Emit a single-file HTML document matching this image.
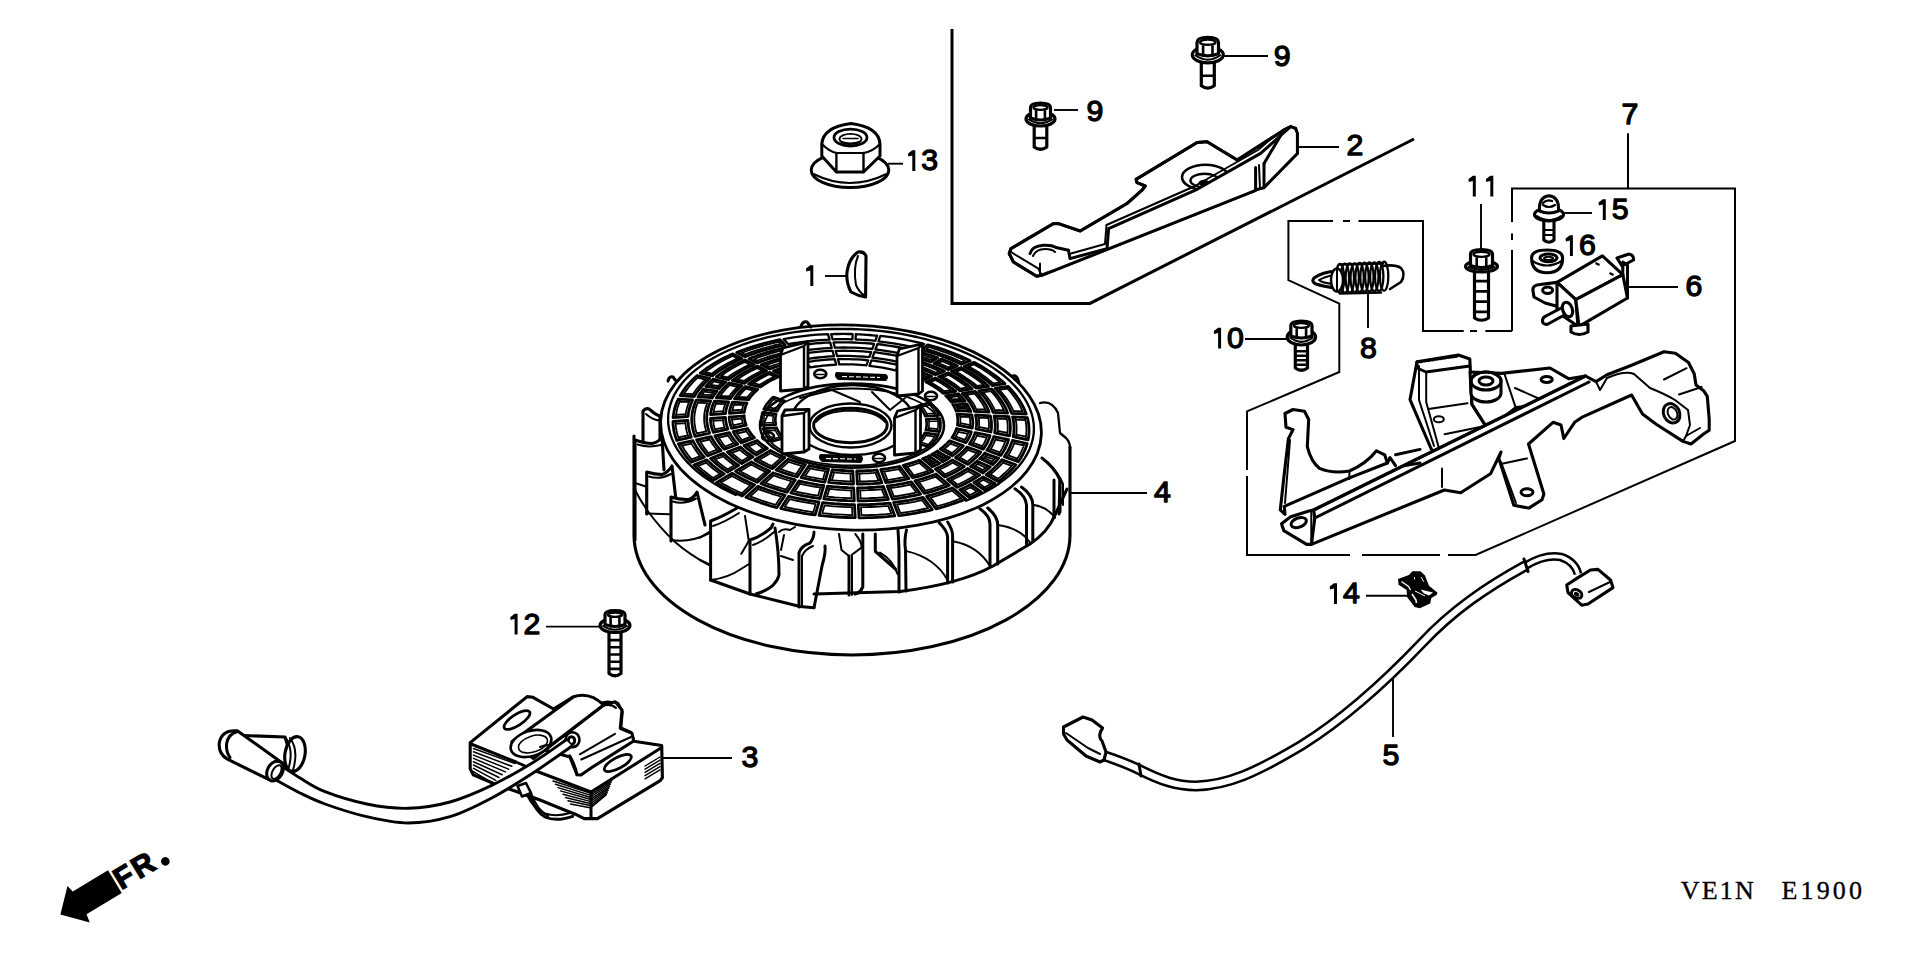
<!DOCTYPE html>
<html><head><meta charset="utf-8"><title>Flywheel parts diagram</title>
<style>
html,body{margin:0;padding:0;background:#fff;}
body{width:1920px;height:958px;overflow:hidden;position:relative;}
svg{position:absolute;left:0;top:0;}
.s{fill:none;stroke:#000;stroke-width:3.0;stroke-linejoin:round;stroke-linecap:round;}
.f{fill:#fff;stroke:#000;stroke-width:3.1;stroke-linejoin:round;stroke-linecap:round;}
.t{fill:none;stroke:#000;stroke-width:2.0;stroke-linejoin:round;stroke-linecap:round;}
.k{fill:#000;stroke:none;}
.bx{fill:none;stroke:#000;stroke-width:3;stroke-linejoin:miter;}
.lb{font-family:"Liberation Sans",sans-serif;fill:#000;stroke:#000;stroke-width:1.3;stroke-linejoin:round;}
.sr{font-family:"Liberation Serif",serif;fill:#000;}
</style></head><body>
<svg width="1920" height="958" viewBox="0 0 1920 958">
<path d="M952,29 V303.4 H1090 L1414,139" class="bx"/>
<path d="M1628,134 V188.6" class="s" style="stroke-width:2"/>
<path d="M1512,331 V188.6 H1735 V441 L1475.6,555 H1247 V411.4 L1339.3,372 V303.6 L1288.4,280.2 V221 H1423 V331 H1512" class="bx" style="stroke-width:2.0"/>
<line x1="1333" y1="221" x2="1343" y2="221" stroke="#fff" style="stroke-width:4"/>
<line x1="1350" y1="221" x2="1358.5" y2="221" stroke="#fff" style="stroke-width:4"/>
<line x1="1463.7" y1="331" x2="1470" y2="331" stroke="#fff" style="stroke-width:4"/>
<line x1="1477" y1="331" x2="1485.4" y2="331" stroke="#fff" style="stroke-width:4"/>
<line x1="1512" y1="222" x2="1512" y2="233.4" stroke="#fff" style="stroke-width:4"/>
<line x1="1512" y1="240" x2="1512" y2="250" stroke="#fff" style="stroke-width:4"/>
<line x1="1247" y1="470" x2="1247" y2="476" stroke="#fff" style="stroke-width:4"/>
<line x1="1350" y1="555" x2="1362" y2="555" stroke="#fff" style="stroke-width:4"/>
<line x1="1440" y1="555" x2="1448" y2="555" stroke="#fff" style="stroke-width:4"/>
<path d="M634,436 L634,535 A218,120 0 0 0 1070,535 L1070,447" class="f"/>
<path d="M643,446 L643,411 Q647,406.5 651,410.5 Q656,415 660,416 L660,440" class="f"/>
<path d="M646,414 Q652,419.5 659,420.5" class="t"/>
<path d="M635,540 L635,440 Q645,443.5 652,443.5 Q659,442 662,437 L664,470" class="f"/>
<path d="M637.5,444.5 Q648,448 661,445" class="t"/>
<path d="M646.7,514 L646.7,472 Q655,474.5 662,474.5 Q668,472.5 672,466 L676,500" class="f"/>
<path d="M649,476.5 Q660,480 671,474" class="t"/>
<path d="M646.7,513.5 L670,514.3" class="t"/>
<path d="M671,541 L671,497 Q680,500 689,499.5 Q694,497.5 697,492 L705,525" class="f"/>
<path d="M673,501.5 Q684,505 696,498.5" class="t"/>
<path d="M671,540 Q690,543 708.6,533.5" class="t"/>
<path d="M635,490 Q640,500 647,510 Q660,528 675,542 Q690,555 709,565" class="t"/>
<path d="M635,483 L646.7,486.7" class="t"/>
<path d="M710.6,580 L710.6,521 Q722,517 737,508" class="s"/>
<path d="M713,526 Q725,522 739,513" class="t"/>
<path d="M710.6,580 Q728,578 741,569 Q746,566 749,564" class="t"/>
<path d="M700,537.6 L710.6,531" class="t"/>
<path d="M700,560 L710.6,565" class="t"/>
<path d="M745,516 L748.8,541" class="t"/>
<path d="M741.3,553.8 L748.8,541" class="t"/>
<path d="M750,594 L750,540 Q760,537 771,528 L773,524" class="s"/>
<path d="M753,545 Q764,541 774,532" class="t"/>
<path d="M775,528 Q779,552 779,575 Q776,588 756,594" class="s"/>
<path d="M779,532 Q783,528 790,530 L795,527" class="t"/>
<path d="M781,556 L793,560" class="t"/>
<path d="M784,535 L781,550" class="t"/>
<path d="M799,607 L799,553 Q801,546 810,543 Q814,538 814,532" class="s"/>
<path d="M802,607 L802,556 Q805,549 813,546" class="t"/>
<path d="M825,546 Q826,552 822,566 L814,607.7" class="s"/>
<path d="M839,534 L841.5,550 L849,556" class="t"/>
<path d="M855.3,534 Q862,542 861.5,547.6 L851.5,555" class="t"/>
<path d="M849,556 L849,595" class="s"/>
<path d="M852,556 L852,595" class="t"/>
<path d="M862.8,534 L862.8,587 Q860,593 855,594" class="s"/>
<path d="M875.3,534 L875.3,551.3 L895.4,569" class="s"/>
<path d="M898,530 Q899,545 899,555 L899,592" class="s"/>
<path d="M906.5,530 Q904,540 905.5,550 L906,591" class="s"/>
<path d="M880,552.6 Q893,560 897.5,574" class="t"/>
<path d="M939,522.6 Q947,530 947.6,537 L947.6,583" class="s"/>
<path d="M947.6,522 Q953,530 952.6,537 L952.6,582" class="s"/>
<path d="M907.5,551.4 Q935,558 947.6,580" class="t"/>
<path d="M980,508.8 Q990,516 990,524 L990,566" class="s"/>
<path d="M987.7,508 Q997.7,516 997.7,525 L997.7,564" class="s"/>
<path d="M954,541.4 Q978,546 990,566" class="t"/>
<path d="M1015,488.8 Q1026,496 1026.5,505 L1026.5,544" class="s"/>
<path d="M1021.5,487 Q1032.8,495 1032.8,505 L1032.8,541" class="s"/>
<path d="M997.7,525 Q1020,528 1030,542.6" class="t"/>
<path d="M1054,480 L1054,517.6" class="s"/>
<path d="M1060,479 L1060,512" class="s"/>
<path d="M1034,505 Q1047,507 1055,517.6" class="t"/>
<path d="M710.6,580 L750,594 L800,606.5 L814,607.7 M814,594 L900.4,591.4 Q960,584 993,566 L1030,544 Q1048,532 1055,515 L1067,489" class="s"/>
<path d="M1040,403 Q1052,400 1058,413 L1060,433 L1066,438 Q1070,442 1070,448" class="f" style="stroke-width:2.3"/>
<path d="M1042,458 Q1055,468 1060,480 L1059,514" class="s"/>
<path d="M1047,462 Q1058,472 1063,484 L1063,505" class="t"/>
<ellipse cx="851" cy="427.5" rx="190.5" ry="102.5" class="f" style="stroke-width:2.8" transform="rotate(2 851 427.5)"/>
<path d="M735.8,494.9 L728.5,491.5 L721.6,487.9 L715.0,484.1 L708.8,480.1 L702.9,476.0 L697.5,471.8 L692.5,467.4 L688.0,462.9 L683.8,458.3 L680.2,453.6 L677.0,448.9 L674.3,444.0 L672.1,439.1 L670.3,434.2 L669.1,429.2 L668.3,424.3 L668.1,419.3 L668.3,414.3 L669.1,409.4 L670.4,404.5 L672.1,399.6 L674.3,394.8 L677.1,390.1 L680.3,385.5 L683.9,381.0 L688.1,376.6 L692.6,372.4 L697.7,368.3 L703.1,364.3 L708.9,360.5 L715.1,356.9 L721.7,353.5 L728.7,350.2 L736.0,347.2 L743.6,344.3 L751.5,341.7 L759.6,339.3 L768.1,337.2 L776.7,335.3 L785.6,333.6 L794.6,332.2 L803.8,331.0 L813.1,330.1 L822.5,329.4 L832.0,329.0 L841.5,328.8 L851.1,329.0 L860.7,329.3 L870.2,330.0 L879.7,330.9 L889.2,332.0 L898.5,333.4 L907.6,335.1 L916.7,337.0 L925.5,339.1 L934.2,341.5 L942.6,344.1 L950.7,346.9 L958.6,349.9 L966.2,353.1 L973.5,356.5 L980.4,360.1 L987.0,363.9 L993.2,367.9 L999.1,372.0 L1004.5,376.2 L1009.5,380.6 L1014.0,385.1 L1018.2,389.7 L1021.8,394.4 L1025.0,399.1 L1027.7,404.0 L1029.9,408.9 L1031.7,413.8 L1032.9,418.8 L1033.7,423.7 L1033.9,428.7 L1033.7,433.7 L1032.9,438.6 L1031.6,443.5 L1029.9,448.4 L1027.7,453.2 L1024.9,457.9 L1021.7,462.5 L1018.1,467.0 L1013.9,471.4 L1009.4,475.6 L1004.3,479.7 L998.9,483.7 L993.1,487.5 L986.9,491.1 L980.3,494.5 L973.3,497.8 L966.0,500.8" class="s" style="stroke-width:2.3"/>
<path d="M801,326 Q803,321 807,322 L811,327" class="s"/>
<path d="M668,381 Q669,376 673,377 L676,381" class="s"/>
<path d="M1012.1,376.2 Q1017.4,374.3 1018.8,382.3" class="s"/>
<path d="M971.8,414.8 L971.9,415.1 L972.3,417.3 L972.6,419.4 L972.8,421.5 L972.8,423.7 L972.6,425.8 L972.3,427.9 L972.3,428.2 L957.4,425.1 L957.4,425.1 L957.7,423.3 L957.8,421.4 L957.8,419.6 L957.7,417.8 L957.4,415.9 L957.0,414.1 L957.0,414.1Z" class="s" style="stroke-width:2.8"/>
<path d="M969.8,417.2 L969.3,415.0 L969.8,417.0 L970.1,419.1 L970.2,421.2 L970.2,423.3 L970.1,425.4 L969.8,427.4 L970.1,425.1 L960.3,423.1 L960.0,425.6 L960.3,423.7 L960.4,421.8 L960.4,419.9 L960.3,418.1 L960.0,416.2 L959.6,414.3 L960.1,416.7Z" class="t" style="stroke-width:1.8"/>
<path d="M990.3,415.8 L990.5,416.5 L991.0,419.0 L991.4,421.5 L991.5,423.9 L991.5,426.4 L991.4,428.9 L991.0,431.4 L990.9,432.0 L976.0,428.9 L976.1,428.6 L976.4,426.4 L976.6,424.2 L976.6,422.0 L976.4,419.8 L976.1,417.6 L975.6,415.4 L975.5,415.0Z" class="s" style="stroke-width:2.8"/>
<path d="M988.3,418.2 L987.9,416.3 L988.5,418.7 L988.8,421.2 L989.0,423.6 L989.0,426.1 L988.8,428.5 L988.4,430.9 L988.7,429.0 L979.0,426.9 L978.7,429.1 L979.0,426.9 L979.1,424.6 L979.1,422.4 L979.0,420.1 L978.7,417.8 L978.2,415.6 L978.6,417.7Z" class="t" style="stroke-width:1.8"/>
<path d="M1008.9,416.7 L1009.1,417.8 L1009.7,420.6 L1010.1,423.5 L1010.3,426.4 L1010.3,429.2 L1010.1,432.1 L1009.7,434.9 L1009.5,435.9 L994.6,432.8 L994.8,432.1 L995.1,429.6 L995.3,427.0 L995.3,424.4 L995.1,421.9 L994.8,419.3 L994.3,416.7 L994.1,416.0Z" class="s" style="stroke-width:2.8"/>
<path d="M1006.9,419.1 L1006.6,417.6 L1007.1,420.4 L1007.5,423.2 L1007.7,426.0 L1007.7,428.8 L1007.5,431.6 L1007.1,434.4 L1007.4,432.8 L997.6,430.8 L997.3,432.6 L997.7,430.0 L997.9,427.4 L997.9,424.8 L997.7,422.1 L997.3,419.5 L996.8,416.9 L997.2,418.6Z" class="t" style="stroke-width:1.8"/>
<path d="M1027.4,417.7 L1027.7,419.1 L1028.4,422.3 L1028.8,425.5 L1029.0,428.8 L1029.0,432.0 L1028.8,435.2 L1028.3,438.4 L1028.1,439.8 L1013.2,436.7 L1013.4,435.6 L1013.8,432.7 L1014.0,429.8 L1014.0,426.8 L1013.8,423.9 L1013.4,421.0 L1012.9,418.0 L1012.6,416.9Z" class="s" style="stroke-width:2.8"/>
<path d="M1025.4,420.1 L1025.2,418.9 L1025.8,422.1 L1026.2,425.3 L1026.4,428.4 L1026.4,431.6 L1026.2,434.8 L1025.8,437.9 L1026.0,436.7 L1016.2,434.7 L1016.0,436.1 L1016.4,433.1 L1016.6,430.2 L1016.6,427.2 L1016.4,424.2 L1016.0,421.2 L1015.4,418.2 L1015.7,419.6Z" class="t" style="stroke-width:1.8"/>
<path d="M971.4,431.8 L971.4,431.8 L970.8,433.7 L970.0,435.5 L969.2,437.3 L968.2,439.0 L967.2,440.8 L966.0,442.5 L965.8,442.7 L951.9,437.7 L951.9,437.7 L952.9,436.2 L953.8,434.7 L954.7,433.2 L955.4,431.6 L956.1,430.1 L956.6,428.5 L956.5,428.7Z" class="s" style="stroke-width:2.8"/>
<path d="M967.9,433.8 L968.8,431.3 L968.2,433.0 L967.5,434.8 L966.7,436.6 L965.8,438.3 L964.7,440.0 L963.6,441.7 L964.8,439.8 L955.7,436.5 L954.3,438.5 L955.4,437.0 L956.3,435.4 L957.2,433.9 L957.9,432.3 L958.6,430.7 L959.1,429.1 L958.2,431.8Z" class="t" style="stroke-width:1.8"/>
<path d="M990.0,435.7 L989.9,436.0 L989.2,438.2 L988.3,440.3 L987.4,442.4 L986.3,444.5 L985.0,446.5 L983.7,448.6 L983.3,449.1 L969.4,444.0 L969.6,443.7 L970.8,441.9 L971.9,440.1 L972.8,438.3 L973.7,436.4 L974.5,434.6 L975.1,432.7 L975.1,432.6Z" class="s" style="stroke-width:2.8"/>
<path d="M986.6,437.7 L987.4,435.5 L986.7,437.5 L985.8,439.6 L984.9,441.7 L983.8,443.7 L982.6,445.7 L981.2,447.7 L982.3,446.1 L973.2,442.8 L972.0,444.6 L973.2,442.7 L974.3,440.9 L975.3,439.0 L976.2,437.1 L977.0,435.2 L977.7,433.3 L976.8,435.7Z" class="t" style="stroke-width:1.8"/>
<path d="M1008.6,439.6 L1008.4,440.2 L1007.6,442.7 L1006.6,445.1 L1005.5,447.5 L1004.3,449.9 L1002.9,452.3 L1001.4,454.6 L1000.8,455.4 L986.8,450.3 L987.2,449.8 L988.6,447.7 L989.9,445.6 L991.0,443.4 L992.0,441.2 L992.9,439.1 L993.6,436.9 L993.7,436.5Z" class="s" style="stroke-width:2.8"/>
<path d="M1005.2,441.6 L1005.9,439.6 L1005.1,442.0 L1004.1,444.4 L1003.0,446.8 L1001.8,449.1 L1000.4,451.5 L998.9,453.8 L999.8,452.4 L990.7,449.1 L989.7,450.6 L991.1,448.5 L992.4,446.3 L993.5,444.1 L994.5,441.9 L995.4,439.7 L996.2,437.4 L995.5,439.5Z" class="t" style="stroke-width:1.8"/>
<path d="M1027.2,443.5 L1026.9,444.4 L1026.0,447.2 L1025.0,449.9 L1023.7,452.6 L1022.3,455.3 L1020.8,458.0 L1019.0,460.6 L1018.3,461.7 L1004.3,456.7 L1004.9,455.8 L1006.5,453.4 L1007.9,451.0 L1009.2,448.5 L1010.3,446.1 L1011.3,443.6 L1012.2,441.1 L1012.4,440.4Z" class="s" style="stroke-width:2.8"/>
<path d="M1023.9,445.4 L1024.4,443.8 L1023.5,446.5 L1022.4,449.2 L1021.2,451.9 L1019.8,454.6 L1018.3,457.2 L1016.6,459.8 L1017.3,458.7 L1008.2,455.4 L1007.4,456.6 L1008.9,454.2 L1010.4,451.7 L1011.7,449.2 L1012.9,446.7 L1013.9,444.2 L1014.7,441.6 L1014.1,443.4Z" class="t" style="stroke-width:1.8"/>
<path d="M963.4,445.7 L963.3,445.9 L961.8,447.6 L960.2,449.2 L958.5,450.8 L956.7,452.4 L954.8,454.0 L952.8,455.5 L952.3,455.9 L940.1,449.1 L940.4,448.9 L942.2,447.6 L943.8,446.3 L945.4,444.9 L946.9,443.5 L948.3,442.1 L949.6,440.7 L949.6,440.7Z" class="s" style="stroke-width:2.8"/>
<path d="M959.1,446.8 L960.8,445.0 L959.3,446.6 L957.8,448.2 L956.1,449.7 L954.4,451.3 L952.5,452.8 L950.6,454.3 L952.1,453.1 L944.3,448.9 L942.7,450.1 L944.5,448.8 L946.2,447.4 L947.8,446.0 L949.3,444.6 L950.7,443.1 L952.1,441.6 L950.3,443.6Z" class="t" style="stroke-width:1.8"/>
<path d="M980.9,452.0 L980.5,452.5 L978.8,454.5 L977.0,456.4 L975.0,458.3 L972.9,460.1 L970.8,462.0 L968.5,463.8 L967.6,464.4 L955.5,457.7 L956.1,457.2 L958.1,455.6 L960.1,454.0 L961.9,452.4 L963.7,450.7 L965.3,449.0 L966.9,447.3 L967.1,447.0Z" class="s" style="stroke-width:2.8"/>
<path d="M976.7,453.1 L978.1,451.6 L976.4,453.5 L974.6,455.4 L972.6,457.2 L970.6,459.0 L968.5,460.8 L966.2,462.6 L967.4,461.7 L959.7,457.4 L958.3,458.4 L960.4,456.8 L962.4,455.1 L964.3,453.5 L966.1,451.7 L967.8,450.0 L969.4,448.2 L967.8,449.9Z" class="t" style="stroke-width:1.8"/>
<path d="M998.5,458.4 L998.7,458.0 L997.8,459.2 L996.9,460.3 L995.9,461.4 L994.8,462.5 L993.8,463.6 L992.7,464.7 L992.9,464.5 L979.8,458.5 L979.5,458.9 L980.5,457.9 L981.4,456.9 L982.4,455.9 L983.3,454.9 L984.1,453.9 L985.0,452.9 L984.6,453.4Z" class="s" style="stroke-width:2.8"/>
<path d="M994.3,459.5 L996.3,457.1 L995.4,458.2 L994.4,459.3 L993.5,460.4 L992.5,461.5 L991.4,462.6 L990.3,463.7 L992.4,461.6 L983.9,457.8 L981.8,459.9 L982.8,458.9 L983.8,457.9 L984.8,456.9 L985.7,455.9 L986.6,454.8 L987.4,453.8 L985.3,456.3Z" class="t" style="stroke-width:1.8"/>
<path d="M990.1,467.0 L990.4,466.8 L989.2,467.9 L987.9,468.9 L986.7,470.0 L985.4,471.0 L984.1,472.0 L982.7,473.0 L982.9,472.9 L970.8,466.2 L970.5,466.4 L971.8,465.5 L973.0,464.6 L974.1,463.7 L975.3,462.7 L976.4,461.8 L977.4,460.8 L977.1,461.2Z" class="s" style="stroke-width:2.8"/>
<path d="M985.7,467.7 L988.0,465.7 L986.8,466.8 L985.6,467.8 L984.4,468.8 L983.1,469.8 L981.8,470.8 L980.5,471.8 L982.7,470.1 L975.1,465.9 L972.8,467.6 L974.0,466.7 L975.3,465.8 L976.4,464.8 L977.6,463.9 L978.7,462.9 L979.8,461.9 L977.5,464.0Z" class="t" style="stroke-width:1.8"/>
<path d="M1015.9,464.7 L1015.1,465.8 L1012.9,468.3 L1010.6,470.8 L1008.1,473.2 L1005.4,475.6 L1002.7,478.0 L999.8,480.3 L998.2,481.5 L986.1,474.7 L987.4,473.8 L990.1,471.7 L992.6,469.5 L995.0,467.3 L997.3,465.1 L999.4,462.8 L1001.4,460.5 L1002.1,459.7Z" class="s" style="stroke-width:2.8"/>
<path d="M1011.7,465.8 L1012.6,464.8 L1010.4,467.3 L1008.1,469.8 L1005.7,472.2 L1003.1,474.5 L1000.4,476.9 L997.5,479.1 L998.1,478.7 L990.3,474.4 L989.6,475.0 L992.3,472.8 L994.9,470.6 L997.4,468.4 L999.7,466.1 L1001.9,463.8 L1003.9,461.5 L1002.9,462.6Z" class="t" style="stroke-width:1.8"/>
<path d="M949.0,458.0 L949.6,457.6 L948.5,458.4 L947.3,459.1 L946.2,459.8 L945.0,460.5 L943.8,461.1 L942.6,461.8 L943.0,461.6 L932.2,454.2 L931.6,454.5 L932.7,453.9 L933.7,453.3 L934.8,452.7 L935.8,452.1 L936.8,451.5 L937.7,450.9 L937.1,451.3Z" class="s" style="stroke-width:2.8"/>
<path d="M944.5,458.1 L947.3,456.3 L946.2,457.0 L945.1,457.7 L944.0,458.4 L942.8,459.1 L941.7,459.7 L940.5,460.4 L943.1,458.9 L936.5,454.4 L933.8,455.9 L934.9,455.3 L935.9,454.7 L937.0,454.1 L938.0,453.5 L939.0,452.8 L940.0,452.2 L937.1,454.0Z" class="t" style="stroke-width:1.8"/>
<path d="M939.6,463.3 L940.1,463.1 L938.8,463.7 L937.5,464.4 L936.2,465.0 L934.8,465.6 L933.5,466.2 L932.1,466.8 L932.5,466.6 L923.0,458.7 L922.5,458.9 L923.7,458.4 L924.9,457.9 L926.1,457.3 L927.3,456.8 L928.4,456.3 L929.5,455.7 L928.9,456.0Z" class="s" style="stroke-width:2.8"/>
<path d="M935.0,463.0 L937.9,461.6 L936.7,462.2 L935.4,462.8 L934.1,463.4 L932.8,464.0 L931.5,464.6 L930.1,465.2 L932.9,464.0 L927.3,459.3 L924.5,460.5 L925.7,460.0 L927.0,459.5 L928.2,458.9 L929.4,458.4 L930.5,457.8 L931.7,457.2 L928.7,458.7Z" class="t" style="stroke-width:1.8"/>
<path d="M964.3,466.5 L963.4,467.1 L960.8,468.8 L958.1,470.4 L955.3,472.0 L952.3,473.5 L949.3,475.0 L946.2,476.4 L944.8,477.0 L935.3,469.0 L936.4,468.5 L939.2,467.3 L941.9,466.0 L944.5,464.6 L947.0,463.2 L949.5,461.8 L951.8,460.3 L952.5,459.9Z" class="s" style="stroke-width:2.8"/>
<path d="M959.8,466.6 L961.1,465.8 L958.5,467.4 L955.9,469.0 L953.1,470.5 L950.2,472.0 L947.3,473.4 L944.3,474.8 L945.2,474.4 L939.5,469.6 L938.4,470.1 L941.2,468.8 L944.0,467.5 L946.6,466.1 L949.2,464.7 L951.7,463.2 L954.1,461.7 L952.6,462.6Z" class="t" style="stroke-width:1.8"/>
<path d="M979.7,475.0 L978.4,475.9 L975.4,477.8 L972.4,479.7 L969.2,481.5 L965.8,483.2 L962.4,484.9 L958.9,486.5 L957.0,487.4 L947.5,479.4 L949.1,478.7 L952.3,477.2 L955.4,475.7 L958.4,474.1 L961.3,472.5 L964.1,470.8 L966.8,469.1 L967.8,468.4Z" class="s" style="stroke-width:2.8"/>
<path d="M975.1,475.2 L976.1,474.6 L973.2,476.4 L970.1,478.2 L967.0,480.0 L963.8,481.7 L960.4,483.4 L957.0,485.0 L957.5,484.7 L951.8,479.9 L951.0,480.2 L954.3,478.7 L957.5,477.2 L960.5,475.6 L963.5,473.9 L966.4,472.2 L969.1,470.5 L968.0,471.2Z" class="t" style="stroke-width:1.8"/>
<path d="M995.1,483.6 L995.0,483.6 L993.4,484.7 L991.8,485.8 L990.1,486.9 L988.4,487.9 L986.7,489.0 L984.9,490.0 L984.7,490.1 L973.9,482.7 L973.9,482.7 L975.5,481.7 L977.1,480.8 L978.7,479.8 L980.2,478.9 L981.8,477.9 L983.2,476.9 L983.1,477.0Z" class="s" style="stroke-width:2.8"/>
<path d="M990.6,483.8 L992.8,482.3 L991.2,483.4 L989.5,484.5 L987.9,485.5 L986.2,486.5 L984.5,487.6 L982.8,488.6 L984.8,487.4 L978.2,482.8 L976.0,484.1 L977.7,483.1 L979.3,482.2 L980.9,481.2 L982.5,480.2 L984.0,479.2 L985.5,478.2 L983.2,479.7Z" class="t" style="stroke-width:1.8"/>
<path d="M981.3,491.9 L981.2,491.9 L979.3,492.9 L977.4,493.9 L975.5,494.8 L973.6,495.8 L971.6,496.7 L969.6,497.6 L969.3,497.7 L959.8,489.7 L960.0,489.7 L961.8,488.9 L963.6,488.0 L965.4,487.2 L967.2,486.3 L968.9,485.4 L970.6,484.5 L970.7,484.5Z" class="s" style="stroke-width:2.8"/>
<path d="M976.8,491.6 L979.0,490.4 L977.2,491.4 L975.3,492.3 L973.4,493.3 L971.5,494.2 L969.6,495.1 L967.6,495.9 L969.7,495.0 L964.1,490.3 L961.9,491.3 L963.8,490.5 L965.7,489.6 L967.5,488.7 L969.3,487.9 L971.1,487.0 L972.8,486.1 L970.5,487.3Z" class="t" style="stroke-width:1.8"/>
<path d="M932.9,471.4 L931.9,471.8 L929.1,472.9 L926.2,473.9 L923.3,474.9 L920.3,475.8 L917.2,476.7 L914.1,477.5 L912.7,477.9 L903.2,465.3 L904.1,465.1 L906.7,464.4 L909.3,463.7 L911.8,462.9 L914.3,462.1 L916.7,461.3 L919.1,460.4 L919.6,460.2Z" class="s" style="stroke-width:2.8"/>
<path d="M928.4,470.6 L929.9,470.0 L927.2,471.1 L924.4,472.1 L921.5,473.0 L918.5,473.9 L915.5,474.8 L912.5,475.6 L913.7,475.3 L907.2,466.6 L905.6,467.0 L908.3,466.3 L911.0,465.6 L913.6,464.8 L916.1,464.0 L918.6,463.1 L921.1,462.2 L919.2,462.9Z" class="t" style="stroke-width:1.8"/>
<path d="M949.3,485.3 L947.8,485.9 L944.4,487.2 L940.9,488.4 L937.4,489.6 L933.8,490.8 L930.1,491.8 L926.4,492.9 L924.4,493.4 L914.9,480.8 L916.4,480.4 L919.6,479.5 L922.8,478.6 L925.9,477.6 L929.0,476.6 L932.0,475.6 L934.9,474.5 L936.0,474.0Z" class="s" style="stroke-width:2.8"/>
<path d="M944.8,484.5 L945.7,484.1 L942.4,485.4 L939.0,486.6 L935.6,487.7 L932.1,488.9 L928.5,489.9 L924.8,490.9 L925.4,490.8 L918.9,482.1 L917.9,482.4 L921.2,481.5 L924.5,480.5 L927.7,479.5 L930.8,478.5 L933.9,477.4 L936.9,476.2 L935.6,476.7Z" class="t" style="stroke-width:1.8"/>
<path d="M965.7,499.1 L963.6,499.9 L959.6,501.5 L955.6,502.9 L951.5,504.3 L947.3,505.7 L943.0,507.0 L938.7,508.2 L936.1,508.9 L926.6,496.3 L928.7,495.7 L932.5,494.7 L936.3,493.5 L940.0,492.4 L943.7,491.1 L947.2,489.8 L950.7,488.5 L952.4,487.8Z" class="s" style="stroke-width:2.8"/>
<path d="M961.1,498.3 L961.6,498.2 L957.7,499.7 L953.7,501.1 L949.7,502.5 L945.6,503.8 L941.4,505.0 L937.1,506.2 L937.1,506.2 L930.6,497.6 L930.2,497.7 L934.2,496.6 L938.0,495.4 L941.8,494.2 L945.5,493.0 L949.2,491.7 L952.7,490.3 L952.0,490.6Z" class="t" style="stroke-width:1.8"/>
<path d="M908.9,478.6 L907.6,478.9 L904.3,479.6 L901.0,480.3 L897.7,480.9 L894.3,481.4 L890.9,482.0 L887.4,482.4 L885.8,482.6 L880.7,469.5 L881.8,469.4 L884.7,469.0 L887.6,468.6 L890.4,468.1 L893.3,467.6 L896.0,467.1 L898.8,466.5 L899.6,466.3Z" class="s" style="stroke-width:2.8"/>
<path d="M904.7,477.0 L906.0,476.7 L902.9,477.4 L899.6,478.0 L896.4,478.6 L893.1,479.2 L889.8,479.7 L886.4,480.1 L887.5,480.0 L884.2,471.5 L882.8,471.7 L885.8,471.3 L888.8,470.8 L891.7,470.4 L894.6,469.9 L897.5,469.3 L900.3,468.7 L898.7,469.0Z" class="t" style="stroke-width:1.8"/>
<path d="M920.6,494.1 L918.6,494.6 L914.7,495.5 L910.8,496.2 L906.8,497.0 L902.7,497.7 L898.7,498.3 L894.5,498.8 L892.3,499.1 L887.2,486.0 L888.9,485.8 L892.5,485.3 L896.0,484.8 L899.5,484.2 L903.0,483.6 L906.5,482.9 L909.8,482.2 L911.3,481.8Z" class="s" style="stroke-width:2.8"/>
<path d="M916.4,492.5 L917.1,492.4 L913.3,493.2 L909.4,494.0 L905.5,494.7 L901.5,495.4 L897.6,496.0 L893.5,496.5 L893.9,496.5 L890.6,488.0 L889.9,488.1 L893.6,487.6 L897.2,487.1 L900.8,486.5 L904.4,485.8 L907.9,485.1 L911.4,484.4 L910.4,484.6Z" class="t" style="stroke-width:1.8"/>
<path d="M932.3,509.6 L929.7,510.3 L925.1,511.3 L920.5,512.2 L915.9,513.1 L911.2,513.9 L906.4,514.6 L901.6,515.3 L898.7,515.6 L893.6,502.5 L896.0,502.2 L900.3,501.6 L904.5,501.0 L908.7,500.3 L912.8,499.5 L916.9,498.7 L920.9,497.8 L923.0,497.3Z" class="s" style="stroke-width:2.8"/>
<path d="M928.1,508.1 L928.1,508.1 L923.7,509.0 L919.2,510.0 L914.6,510.8 L910.0,511.6 L905.3,512.3 L900.6,513.0 L900.3,513.0 L897.0,504.5 L897.0,504.5 L901.3,503.9 L905.7,503.3 L909.9,502.6 L914.2,501.8 L918.3,500.9 L922.5,500.0 L922.1,500.1Z" class="t" style="stroke-width:1.8"/>
<path d="M882.0,482.9 L880.4,483.0 L876.9,483.3 L873.3,483.6 L869.8,483.8 L866.2,483.9 L862.6,484.0 L859.0,484.1 L857.3,484.1 L856.7,471.0 L857.8,471.0 L860.9,470.9 L863.9,470.8 L866.9,470.7 L870.0,470.6 L873.0,470.4 L875.9,470.1 L877.0,470.0Z" class="s" style="stroke-width:2.8"/>
<path d="M878.4,480.6 L879.5,480.5 L876.1,480.8 L872.7,481.1 L869.2,481.2 L865.8,481.4 L862.3,481.5 L858.8,481.5 L859.8,481.5 L859.4,473.5 L858.1,473.5 L861.2,473.5 L864.4,473.4 L867.5,473.3 L870.6,473.1 L873.7,472.9 L876.8,472.6 L875.4,472.7Z" class="t" style="stroke-width:1.8"/>
<path d="M888.4,499.4 L886.1,499.6 L881.9,500.0 L877.7,500.3 L873.4,500.6 L869.2,500.7 L864.9,500.9 L860.6,500.9 L858.1,500.9 L857.5,487.8 L859.4,487.8 L863.1,487.8 L866.9,487.7 L870.6,487.5 L874.3,487.3 L878.0,487.0 L881.7,486.7 L883.4,486.5Z" class="s" style="stroke-width:2.8"/>
<path d="M884.9,497.2 L885.3,497.1 L881.2,497.5 L877.0,497.8 L872.9,498.0 L868.7,498.2 L864.5,498.3 L860.3,498.4 L860.6,498.4 L860.2,490.4 L859.6,490.4 L863.5,490.3 L867.3,490.2 L871.1,490.0 L875.0,489.8 L878.8,489.6 L882.5,489.2 L881.8,489.3Z" class="t" style="stroke-width:1.8"/>
<path d="M894.8,515.9 L891.9,516.2 L887.0,516.7 L882.0,517.0 L877.1,517.3 L872.1,517.6 L867.1,517.7 L862.1,517.8 L859.0,517.8 L858.3,504.7 L860.9,504.7 L865.4,504.6 L869.8,504.5 L874.2,504.3 L878.6,504.0 L883.0,503.7 L887.4,503.3 L889.9,503.1Z" class="s" style="stroke-width:2.8"/>
<path d="M891.3,513.7 L891.0,513.7 L886.2,514.2 L881.4,514.5 L876.5,514.8 L871.6,515.0 L866.8,515.2 L861.9,515.2 L861.4,515.2 L861.0,507.2 L861.1,507.2 L865.7,507.1 L870.2,507.0 L874.8,506.8 L879.3,506.6 L883.8,506.2 L888.3,505.8 L888.2,505.8Z" class="t" style="stroke-width:1.8"/>
<path d="M853.5,484.0 L851.8,484.0 L848.2,483.9 L844.6,483.7 L841.0,483.5 L837.4,483.2 L833.8,482.9 L830.3,482.6 L828.6,482.4 L832.4,469.6 L833.5,469.8 L836.5,470.1 L839.5,470.3 L842.6,470.5 L845.6,470.7 L848.7,470.8 L851.7,470.9 L852.9,471.0Z" class="s" style="stroke-width:2.8"/>
<path d="M850.8,481.4 L851.8,481.4 L848.3,481.3 L844.8,481.1 L841.3,480.9 L837.8,480.7 L834.4,480.4 L830.9,480.0 L832.0,480.1 L834.2,472.4 L832.8,472.3 L836.0,472.6 L839.1,472.9 L842.3,473.1 L845.4,473.3 L848.6,473.4 L851.8,473.5 L850.4,473.5Z" class="t" style="stroke-width:1.8"/>
<path d="M854.3,500.9 L851.9,500.8 L847.6,500.7 L843.3,500.5 L839.0,500.3 L834.7,499.9 L830.4,499.6 L826.2,499.1 L823.8,498.8 L827.5,486.1 L829.4,486.3 L833.1,486.7 L836.8,487.0 L840.6,487.3 L844.3,487.5 L848.1,487.7 L851.8,487.8 L853.7,487.8Z" class="s" style="stroke-width:2.8"/>
<path d="M851.6,498.2 L851.9,498.2 L847.7,498.1 L843.5,497.9 L839.3,497.7 L835.1,497.4 L831.0,497.0 L826.8,496.6 L827.1,496.6 L829.4,488.9 L828.7,488.8 L832.5,489.2 L836.4,489.6 L840.2,489.9 L844.1,490.1 L848.0,490.3 L851.9,490.4 L851.2,490.4Z" class="t" style="stroke-width:1.8"/>
<path d="M855.2,517.7 L852.0,517.7 L847.0,517.5 L842.0,517.3 L837.0,517.0 L832.0,516.6 L827.0,516.2 L822.0,515.7 L819.0,515.3 L822.7,502.6 L825.2,502.8 L829.7,503.3 L834.1,503.7 L838.5,504.0 L843.0,504.3 L847.5,504.5 L852.0,504.6 L854.5,504.7Z" class="s" style="stroke-width:2.8"/>
<path d="M852.4,515.1 L852.0,515.1 L847.1,514.9 L842.2,514.7 L837.3,514.4 L832.4,514.1 L827.5,513.6 L822.7,513.1 L822.3,513.1 L824.6,505.4 L824.6,505.4 L829.1,505.9 L833.7,506.3 L838.2,506.6 L842.8,506.9 L847.4,507.1 L852.0,507.2 L852.1,507.2Z" class="t" style="stroke-width:1.8"/>
<path d="M824.8,482.0 L823.2,481.8 L819.7,481.3 L816.2,480.7 L812.7,480.1 L809.3,479.4 L805.9,478.7 L802.5,478.0 L801.1,477.6 L809.1,465.5 L810.1,465.8 L812.9,466.4 L815.8,467.0 L818.7,467.5 L821.6,468.0 L824.5,468.5 L827.5,468.9 L828.6,469.1Z" class="s" style="stroke-width:2.8"/>
<path d="M823.0,479.2 L824.0,479.4 L820.6,478.9 L817.2,478.3 L813.8,477.7 L810.5,477.1 L807.2,476.4 L803.9,475.7 L805.1,476.0 L810.2,468.4 L808.6,468.0 L811.6,468.7 L814.6,469.3 L817.5,469.9 L820.6,470.4 L823.6,470.9 L826.7,471.3 L825.3,471.1Z" class="t" style="stroke-width:1.8"/>
<path d="M820.0,498.5 L817.7,498.1 L813.5,497.5 L809.3,496.8 L805.2,496.1 L801.1,495.3 L797.0,494.4 L793.0,493.5 L790.9,493.0 L798.9,480.9 L800.5,481.3 L804.0,482.1 L807.5,482.8 L811.1,483.5 L814.7,484.2 L818.3,484.8 L822.0,485.3 L823.8,485.5Z" class="s" style="stroke-width:2.8"/>
<path d="M818.1,495.7 L818.5,495.7 L814.4,495.1 L810.3,494.5 L806.3,493.7 L802.3,493.0 L798.3,492.1 L794.4,491.2 L794.9,491.4 L799.9,483.8 L799.1,483.6 L802.7,484.4 L806.3,485.2 L810.0,485.9 L813.7,486.5 L817.4,487.1 L821.2,487.7 L820.5,487.6Z" class="t" style="stroke-width:1.8"/>
<path d="M815.2,514.9 L812.1,514.5 L807.3,513.8 L802.4,513.0 L797.6,512.1 L792.8,511.1 L788.1,510.1 L783.4,509.1 L780.7,508.4 L788.7,496.3 L790.9,496.9 L795.1,497.8 L799.3,498.7 L803.5,499.5 L807.8,500.3 L812.1,501.0 L816.5,501.7 L819.0,502.0Z" class="s" style="stroke-width:2.8"/>
<path d="M813.3,512.2 L813.0,512.1 L808.2,511.4 L803.4,510.6 L798.7,509.7 L794.0,508.8 L789.4,507.8 L784.8,506.8 L784.7,506.7 L789.7,499.2 L789.5,499.1 L793.8,500.1 L798.1,501.0 L802.4,501.9 L806.8,502.7 L811.2,503.4 L815.7,504.1 L815.7,504.1Z" class="t" style="stroke-width:1.8"/>
<path d="M797.3,476.8 L795.9,476.5 L792.6,475.6 L789.4,474.6 L786.3,473.6 L783.2,472.6 L780.2,471.5 L777.2,470.4 L776.0,470.0 L788.2,459.0 L788.8,459.3 L791.4,460.2 L793.9,461.1 L796.5,461.9 L799.2,462.7 L801.8,463.5 L804.6,464.3 L805.5,464.5Z" class="s" style="stroke-width:2.8"/>
<path d="M796.2,474.1 L797.3,474.4 L794.2,473.5 L791.1,472.6 L788.0,471.7 L785.0,470.7 L782.0,469.6 L779.1,468.6 L780.5,469.1 L788.6,461.8 L786.9,461.1 L789.5,462.1 L792.1,463.0 L794.8,463.9 L797.5,464.7 L800.3,465.5 L803.1,466.3 L801.6,465.9Z" class="t" style="stroke-width:1.8"/>
<path d="M787.1,492.2 L785.0,491.6 L781.1,490.6 L777.3,489.4 L773.6,488.2 L769.9,487.0 L766.2,485.7 L762.7,484.3 L761.0,483.6 L773.1,472.7 L774.3,473.2 L777.4,474.3 L780.6,475.4 L783.8,476.5 L787.0,477.5 L790.4,478.5 L793.7,479.4 L795.3,479.9Z" class="s" style="stroke-width:2.8"/>
<path d="M786.0,489.5 L786.5,489.6 L782.7,488.5 L778.9,487.4 L775.3,486.3 L771.7,485.0 L768.1,483.8 L764.6,482.5 L765.4,482.8 L773.5,475.5 L772.4,475.0 L775.6,476.2 L778.8,477.4 L782.1,478.5 L785.4,479.5 L788.8,480.5 L792.3,481.5 L791.4,481.3Z" class="t" style="stroke-width:1.8"/>
<path d="M776.9,507.6 L774.1,506.8 L769.6,505.6 L765.2,504.2 L760.8,502.8 L756.5,501.3 L752.3,499.8 L748.2,498.2 L745.9,497.3 L758.0,486.3 L759.8,487.1 L763.5,488.4 L767.2,489.8 L771.1,491.1 L774.9,492.3 L778.9,493.5 L782.9,494.6 L785.1,495.2Z" class="s" style="stroke-width:2.8"/>
<path d="M775.7,504.8 L775.6,504.8 L771.2,503.5 L766.8,502.2 L762.5,500.8 L758.3,499.4 L754.2,497.9 L750.1,496.3 L750.3,496.4 L758.4,489.1 L757.9,488.9 L761.6,490.3 L765.5,491.7 L769.3,493.0 L773.3,494.3 L777.3,495.5 L781.4,496.7 L781.2,496.6Z" class="t" style="stroke-width:1.8"/>
<path d="M772.4,468.7 L771.3,468.2 L768.5,467.0 L765.7,465.7 L763.1,464.4 L760.5,463.1 L758.0,461.7 L755.5,460.3 L754.8,459.8 L770.6,450.5 L770.9,450.7 L773.0,451.9 L775.1,453.0 L777.2,454.1 L779.5,455.2 L781.8,456.2 L784.1,457.2 L784.8,457.5Z" class="s" style="stroke-width:2.8"/>
<path d="M771.9,466.0 L773.2,466.6 L770.4,465.4 L767.8,464.2 L765.2,462.9 L762.6,461.6 L760.2,460.2 L757.8,458.9 L759.4,459.8 L770.5,453.2 L768.6,452.1 L770.7,453.3 L772.9,454.5 L775.1,455.6 L777.4,456.7 L779.8,457.8 L782.2,458.9 L780.6,458.1Z" class="t" style="stroke-width:1.8"/>
<path d="M757.3,482.3 L755.6,481.6 L752.3,480.1 L749.0,478.6 L745.8,477.0 L742.7,475.3 L739.7,473.7 L736.8,472.0 L735.6,471.2 L751.4,461.9 L752.2,462.4 L754.7,463.8 L757.3,465.3 L760.0,466.6 L762.8,468.0 L765.6,469.3 L768.5,470.6 L769.7,471.1Z" class="s" style="stroke-width:2.8"/>
<path d="M756.8,479.6 L757.5,480.0 L754.3,478.5 L751.1,477.0 L747.9,475.4 L744.9,473.8 L742.0,472.2 L739.1,470.5 L740.2,471.2 L751.3,464.6 L749.9,463.8 L752.5,465.3 L755.2,466.8 L757.9,468.2 L760.7,469.6 L763.6,470.9 L766.6,472.2 L765.5,471.8Z" class="t" style="stroke-width:1.8"/>
<path d="M742.2,496.0 L740.0,495.0 L736.1,493.2 L732.3,491.4 L728.6,489.5 L725.0,487.6 L721.5,485.6 L718.1,483.6 L716.4,482.6 L732.2,473.2 L733.5,474.0 L736.5,475.8 L739.6,477.5 L742.8,479.2 L746.0,480.8 L749.4,482.4 L752.8,484.0 L754.6,484.7Z" class="s" style="stroke-width:2.8"/>
<path d="M741.7,493.3 L741.9,493.4 L738.1,491.6 L734.3,489.8 L730.7,488.0 L727.2,486.1 L723.7,484.2 L720.4,482.2 L721.0,482.6 L732.1,476.0 L731.2,475.5 L734.3,477.3 L737.4,479.0 L740.7,480.7 L744.0,482.4 L747.4,484.0 L750.9,485.6 L750.4,485.4Z" class="t" style="stroke-width:1.8"/>
<path d="M756.2,455.1 L755.6,454.7 L753.5,453.3 L751.5,451.8 L749.6,450.3 L747.7,448.8 L745.9,447.3 L744.2,445.8 L744.0,445.5 L757.1,440.5 L757.1,440.5 L758.6,441.8 L760.1,443.2 L761.8,444.5 L763.5,445.7 L765.3,447.0 L767.1,448.2 L767.4,448.4Z" class="s" style="stroke-width:2.8"/>
<path d="M756.3,452.4 L757.8,453.5 L755.8,452.1 L753.8,450.6 L751.9,449.2 L750.1,447.7 L748.3,446.3 L746.7,444.8 L748.5,446.4 L756.6,443.2 L754.6,441.5 L756.2,442.9 L757.8,444.2 L759.4,445.6 L761.2,446.9 L763.0,448.2 L764.9,449.5 L763.2,448.3Z" class="t" style="stroke-width:1.8"/>
<path d="M741.8,463.6 L740.9,463.0 L738.5,461.3 L736.2,459.6 L733.9,457.9 L731.8,456.1 L729.7,454.3 L727.8,452.5 L727.3,452.0 L740.3,447.0 L740.6,447.2 L742.4,448.8 L744.2,450.4 L746.1,452.0 L748.1,453.5 L750.2,455.0 L752.4,456.5 L753.1,456.9Z" class="s" style="stroke-width:2.8"/>
<path d="M741.9,460.9 L743.1,461.7 L740.7,460.1 L738.5,458.4 L736.3,456.7 L734.1,455.0 L732.1,453.3 L730.2,451.5 L731.7,452.9 L739.8,449.8 L738.2,448.2 L739.9,449.9 L741.8,451.5 L743.8,453.1 L745.9,454.7 L748.0,456.2 L750.2,457.7 L748.8,456.8Z" class="t" style="stroke-width:1.8"/>
<path d="M727.5,472.1 L726.2,471.2 L723.5,469.3 L720.8,467.4 L718.3,465.4 L715.8,463.4 L713.5,461.3 L711.3,459.2 L710.5,458.5 L723.6,453.4 L724.2,454.0 L726.2,455.9 L728.3,457.7 L730.5,459.5 L732.8,461.3 L735.2,463.1 L737.7,464.8 L738.7,465.4Z" class="s" style="stroke-width:2.8"/>
<path d="M727.5,469.4 L728.4,470.0 L725.7,468.1 L723.1,466.2 L720.6,464.3 L718.2,462.3 L715.9,460.3 L713.7,458.2 L715.0,459.4 L723.0,456.3 L721.7,455.0 L723.7,456.9 L725.9,458.8 L728.1,460.6 L730.5,462.5 L732.9,464.3 L735.5,466.0 L734.4,465.3Z" class="t" style="stroke-width:1.8"/>
<path d="M713.1,480.6 L711.5,479.5 L708.4,477.4 L705.5,475.2 L702.6,472.9 L699.9,470.7 L697.3,468.3 L694.8,466.0 L693.8,465.0 L706.9,459.9 L707.7,460.7 L710.0,462.9 L712.3,465.0 L714.8,467.0 L717.4,469.1 L720.2,471.1 L723.0,473.1 L724.3,473.9Z" class="s" style="stroke-width:2.8"/>
<path d="M713.1,477.9 L713.7,478.3 L710.7,476.2 L707.8,474.0 L705.0,471.8 L702.3,469.6 L699.7,467.3 L697.3,465.0 L698.2,465.9 L706.3,462.7 L705.2,461.7 L707.5,463.9 L710.0,466.1 L712.5,468.2 L715.1,470.2 L717.9,472.3 L720.8,474.3 L720.0,473.8Z" class="t" style="stroke-width:1.8"/>
<path d="M741.2,442.9 L740.9,442.5 L739.3,440.8 L737.9,439.0 L736.6,437.3 L735.4,435.5 L734.3,433.7 L733.3,431.8 L733.2,431.7 L747.7,428.5 L747.6,428.4 L748.5,430.0 L749.5,431.5 L750.6,433.1 L751.7,434.6 L753.0,436.1 L754.3,437.6 L754.5,437.7Z" class="s" style="stroke-width:2.8"/>
<path d="M741.9,440.1 L743.3,441.6 L741.8,440.0 L740.4,438.2 L739.1,436.5 L737.9,434.8 L736.8,433.0 L735.8,431.2 L737.1,433.5 L746.5,431.4 L745.1,429.0 L746.0,430.6 L747.0,432.2 L748.1,433.8 L749.3,435.4 L750.6,436.9 L751.9,438.5 L750.4,436.8Z" class="t" style="stroke-width:1.8"/>
<path d="M724.5,449.3 L723.9,448.7 L722.1,446.7 L720.5,444.6 L719.0,442.5 L717.6,440.4 L716.3,438.3 L715.1,436.2 L714.9,435.8 L729.4,432.6 L729.5,432.7 L730.5,434.6 L731.7,436.5 L732.9,438.3 L734.3,440.2 L735.8,442.0 L737.4,443.8 L737.8,444.2Z" class="s" style="stroke-width:2.8"/>
<path d="M725.2,446.5 L726.3,447.8 L724.6,445.8 L722.9,443.8 L721.5,441.8 L720.1,439.7 L718.8,437.7 L717.7,435.6 L718.8,437.6 L728.1,435.5 L726.9,433.3 L728.0,435.3 L729.2,437.2 L730.5,439.1 L731.8,441.0 L733.4,442.8 L735.0,444.7 L733.7,443.2Z" class="t" style="stroke-width:1.8"/>
<path d="M707.8,455.8 L706.9,454.9 L704.9,452.5 L703.1,450.2 L701.3,447.8 L699.7,445.4 L698.3,443.0 L697.0,440.5 L696.6,439.8 L711.1,436.6 L711.4,437.1 L712.6,439.3 L713.9,441.5 L715.3,443.6 L716.9,445.8 L718.6,447.9 L720.4,450.0 L721.0,450.7Z" class="s" style="stroke-width:2.8"/>
<path d="M708.4,453.0 L709.3,454.0 L707.4,451.7 L705.5,449.4 L703.8,447.1 L702.3,444.7 L700.8,442.3 L699.5,439.9 L700.4,441.6 L709.8,439.5 L708.8,437.7 L710.0,439.9 L711.4,442.2 L712.8,444.4 L714.4,446.5 L716.2,448.7 L718.0,450.8 L717.0,449.7Z" class="t" style="stroke-width:1.8"/>
<path d="M691.1,462.3 L690.0,461.1 L687.7,458.4 L685.6,455.8 L683.7,453.1 L681.9,450.4 L680.3,447.6 L678.9,444.9 L678.3,443.8 L692.9,440.6 L693.2,441.4 L694.6,443.9 L696.1,446.4 L697.7,448.9 L699.5,451.3 L701.4,453.8 L703.4,456.2 L704.3,457.1Z" class="s" style="stroke-width:2.8"/>
<path d="M691.7,459.4 L692.4,460.2 L690.2,457.6 L688.1,455.0 L686.2,452.3 L684.4,449.7 L682.9,447.0 L681.4,444.3 L682.1,445.6 L691.5,443.6 L690.7,442.0 L692.0,444.6 L693.5,447.1 L695.2,449.6 L697.0,452.1 L698.9,454.6 L701.0,457.0 L700.3,456.1Z" class="t" style="stroke-width:1.8"/>
<path d="M731.6,428.3 L731.5,428.2 L730.9,426.3 L730.3,424.5 L729.9,422.6 L729.5,420.7 L729.3,418.9 L729.2,417.0 L729.2,417.1 L744.2,415.9 L744.2,415.6 L744.3,417.2 L744.5,418.8 L744.7,420.4 L745.1,422.0 L745.6,423.6 L746.2,425.2 L746.2,425.1Z" class="s" style="stroke-width:2.8"/>
<path d="M733.2,425.3 L734.1,427.7 L733.4,425.9 L732.9,424.0 L732.4,422.2 L732.1,420.4 L731.9,418.6 L731.8,416.8 L732.0,419.5 L741.8,418.7 L741.6,415.8 L741.7,417.5 L741.9,419.1 L742.2,420.8 L742.6,422.4 L743.1,424.1 L743.7,425.7 L742.8,423.2Z" class="t" style="stroke-width:1.8"/>
<path d="M729.4,413.3 L729.4,413.3 L729.6,411.4 L729.9,409.6 L730.4,407.8 L731.0,405.9 L731.7,404.1 L732.5,402.3 L732.5,402.2 L746.9,403.1 L747.0,402.9 L746.3,404.5 L745.7,406.0 L745.2,407.6 L744.8,409.2 L744.5,410.8 L744.3,412.4 L744.3,412.1Z" class="s" style="stroke-width:2.8"/>
<path d="M732.4,410.5 L732.0,413.1 L732.2,411.3 L732.6,409.5 L733.0,407.7 L733.6,406.0 L734.2,404.2 L735.0,402.4 L734.0,404.7 L743.4,405.2 L744.4,402.8 L743.7,404.4 L743.1,406.0 L742.6,407.6 L742.2,409.3 L741.8,410.9 L741.6,412.5 L742.1,409.7Z" class="t" style="stroke-width:1.8"/>
<path d="M713.3,432.3 L713.1,431.9 L712.4,429.7 L711.7,427.5 L711.2,425.4 L710.8,423.2 L710.6,421.0 L710.5,418.8 L710.5,418.5 L725.4,417.4 L725.4,417.4 L725.5,419.3 L725.8,421.2 L726.1,423.2 L726.6,425.1 L727.1,427.0 L727.8,428.9 L727.9,429.1Z" class="s" style="stroke-width:2.8"/>
<path d="M715.0,429.4 L715.7,431.4 L714.9,429.3 L714.3,427.1 L713.8,425.0 L713.4,422.8 L713.2,420.7 L713.1,418.6 L713.2,420.9 L723.0,420.2 L722.8,417.6 L723.0,419.6 L723.2,421.6 L723.5,423.5 L724.0,425.5 L724.6,427.5 L725.3,429.4 L724.5,427.3Z" class="t" style="stroke-width:1.8"/>
<path d="M710.6,414.7 L710.6,414.4 L710.9,412.3 L711.3,410.1 L711.9,408.0 L712.5,405.8 L713.3,403.7 L714.2,401.6 L714.4,401.2 L728.8,402.0 L728.7,402.2 L727.9,404.0 L727.2,405.9 L726.6,407.8 L726.1,409.7 L725.8,411.6 L725.5,413.5 L725.5,413.6Z" class="s" style="stroke-width:2.8"/>
<path d="M713.6,411.9 L713.3,414.3 L713.5,412.2 L713.9,410.0 L714.5,407.9 L715.1,405.8 L715.9,403.8 L716.8,401.7 L715.9,403.6 L725.3,404.2 L726.2,402.1 L725.3,404.0 L724.6,405.9 L724.0,407.8 L723.5,409.8 L723.2,411.7 L722.9,413.7 L723.2,411.2Z" class="t" style="stroke-width:1.8"/>
<path d="M695.0,436.3 L693.9,433.1 L692.6,428.1 L691.9,423.1 L691.7,418.1 L692.2,413.1 L693.3,408.2 L694.9,403.3 L696.3,400.1 L710.7,401.0 L709.6,403.6 L708.1,408.0 L707.1,412.4 L706.7,416.9 L706.8,421.4 L707.5,425.9 L708.6,430.4 L709.6,433.1Z" class="s" style="stroke-width:2.8"/>
<path d="M696.7,433.4 L696.4,432.6 L695.2,427.7 L694.5,422.8 L694.3,417.9 L694.8,413.0 L695.8,408.1 L697.5,403.3 L697.8,402.6 L707.2,403.1 L707.0,403.6 L705.5,408.0 L704.5,412.6 L704.1,417.1 L704.2,421.7 L704.9,426.3 L706.1,430.9 L706.2,431.3Z" class="t" style="stroke-width:1.8"/>
<path d="M676.8,440.4 L676.4,439.3 L675.4,436.5 L674.6,433.7 L673.9,430.9 L673.5,428.0 L673.1,425.2 L673.0,422.4 L673.0,421.5 L687.9,420.3 L687.9,421.0 L688.1,423.5 L688.4,426.1 L688.8,428.7 L689.4,431.2 L690.2,433.8 L691.0,436.3 L691.4,437.1Z" class="s" style="stroke-width:2.8"/>
<path d="M678.4,437.4 L678.9,438.8 L677.9,436.0 L677.1,433.3 L676.5,430.5 L676.0,427.7 L675.7,424.9 L675.6,422.1 L675.6,423.9 L685.4,423.1 L685.4,421.2 L685.5,423.8 L685.8,426.4 L686.2,429.1 L686.8,431.7 L687.6,434.3 L688.5,436.9 L687.9,435.3Z" class="t" style="stroke-width:1.8"/>
<path d="M673.1,417.7 L673.2,416.7 L673.6,413.9 L674.1,411.1 L674.7,408.4 L675.6,405.6 L676.6,402.8 L677.8,400.1 L678.2,399.1 L692.6,399.9 L692.3,400.7 L691.2,403.2 L690.3,405.7 L689.5,408.2 L688.9,410.7 L688.4,413.3 L688.1,415.8 L688.0,416.5Z" class="s" style="stroke-width:2.8"/>
<path d="M676.0,414.9 L675.8,416.6 L676.2,413.8 L676.7,411.1 L677.3,408.3 L678.2,405.6 L679.2,402.9 L680.3,400.2 L679.7,401.6 L689.0,402.1 L689.7,400.6 L688.6,403.1 L687.7,405.7 L686.9,408.2 L686.3,410.8 L685.8,413.4 L685.5,416.0 L685.7,414.1Z" class="t" style="stroke-width:1.8"/>
<path d="M734.5,398.9 L734.7,398.5 L736.0,396.6 L737.4,394.6 L739.0,392.7 L740.8,390.8 L742.6,388.9 L744.6,387.1 L745.3,386.5 L757.8,389.4 L757.4,389.7 L755.7,391.3 L754.0,392.9 L752.5,394.6 L751.1,396.2 L749.8,397.9 L748.7,399.6 L748.6,399.7Z" class="s" style="stroke-width:2.8"/>
<path d="M738.6,396.8 L737.3,398.8 L738.6,396.8 L740.0,394.9 L741.6,393.0 L743.3,391.2 L745.1,389.4 L747.1,387.6 L745.8,388.7 L753.5,390.5 L755.0,389.2 L753.2,390.9 L751.5,392.5 L749.9,394.2 L748.5,395.9 L747.2,397.7 L746.0,399.4 L747.4,397.3Z" class="t" style="stroke-width:1.8"/>
<path d="M716.3,397.8 L716.8,397.2 L718.3,394.8 L719.9,392.5 L721.8,390.3 L723.8,388.0 L725.9,385.9 L728.2,383.7 L729.2,382.8 L741.8,385.7 L741.0,386.4 L739.0,388.2 L737.0,390.2 L735.3,392.1 L733.6,394.1 L732.1,396.2 L730.8,398.2 L730.5,398.7Z" class="s" style="stroke-width:2.8"/>
<path d="M720.5,395.8 L719.4,397.4 L720.9,395.1 L722.6,392.8 L724.4,390.6 L726.3,388.4 L728.4,386.3 L730.7,384.2 L729.8,385.1 L737.5,386.8 L738.6,385.8 L736.5,387.8 L734.5,389.8 L732.7,391.8 L731.0,393.8 L729.5,395.9 L728.1,398.0 L729.2,396.3Z" class="t" style="stroke-width:1.8"/>
<path d="M698.2,396.8 L698.0,397.1 L698.8,395.8 L699.6,394.4 L700.5,393.1 L701.5,391.8 L702.4,390.4 L703.4,389.1 L703.3,389.3 L716.9,391.2 L717.1,390.9 L716.2,392.1 L715.3,393.3 L714.4,394.4 L713.6,395.6 L712.9,396.8 L712.2,398.1 L712.4,397.6Z" class="s" style="stroke-width:2.8"/>
<path d="M702.2,394.7 L700.6,397.3 L701.4,396.0 L702.2,394.6 L703.1,393.3 L704.0,392.0 L705.0,390.7 L706.0,389.5 L704.3,391.7 L712.8,392.8 L714.6,390.6 L713.6,391.8 L712.7,393.0 L711.9,394.2 L711.0,395.4 L710.3,396.6 L709.5,397.9 L711.2,395.2Z" class="t" style="stroke-width:1.8"/>
<path d="M705.8,386.4 L705.7,386.6 L706.9,385.3 L708.1,384.0 L709.3,382.8 L710.6,381.6 L711.9,380.3 L713.3,379.1 L713.2,379.2 L725.7,382.0 L725.9,381.9 L724.6,383.0 L723.4,384.1 L722.2,385.2 L721.1,386.3 L720.0,387.4 L719.0,388.6 L719.2,388.3Z" class="s" style="stroke-width:2.8"/>
<path d="M710.3,384.8 L708.3,387.0 L709.5,385.7 L710.6,384.5 L711.9,383.3 L713.1,382.1 L714.4,380.9 L715.8,379.7 L713.8,381.4 L721.3,383.1 L723.4,381.3 L722.1,382.4 L720.9,383.6 L719.7,384.7 L718.5,385.9 L717.4,387.0 L716.4,388.2 L718.4,386.0Z" class="t" style="stroke-width:1.8"/>
<path d="M680.1,395.7 L680.9,394.4 L682.9,391.3 L685.0,388.4 L687.3,385.4 L689.8,382.6 L692.6,379.7 L695.5,377.0 L697.2,375.5 L709.7,378.3 L708.3,379.6 L705.6,382.1 L703.1,384.7 L700.8,387.3 L698.6,390.0 L696.7,392.7 L694.9,395.4 L694.3,396.6Z" class="s" style="stroke-width:2.8"/>
<path d="M684.2,393.6 L683.6,394.6 L685.5,391.6 L687.6,388.7 L689.9,385.8 L692.4,383.0 L695.1,380.2 L697.9,377.5 L697.7,377.7 L705.4,379.5 L705.8,379.1 L703.1,381.7 L700.6,384.3 L698.2,387.0 L696.0,389.7 L694.1,392.4 L692.3,395.2 L692.9,394.1Z" class="t" style="stroke-width:1.8"/>
<path d="M748.5,384.2 L749.5,383.4 L752.2,381.5 L755.1,379.7 L758.0,377.9 L761.2,376.2 L764.4,374.5 L767.9,373.0 L769.6,372.2 L778.8,376.8 L777.5,377.3 L774.4,378.7 L771.6,380.1 L768.8,381.6 L766.1,383.2 L763.6,384.8 L761.3,386.4 L760.5,387.0Z" class="s" style="stroke-width:2.8"/>
<path d="M753.4,383.2 L752.2,384.1 L754.8,382.3 L757.6,380.5 L760.5,378.8 L763.5,377.1 L766.7,375.5 L770.1,374.0 L769.4,374.2 L774.4,376.7 L775.3,376.3 L772.2,377.8 L769.2,379.2 L766.3,380.8 L763.6,382.4 L761.0,384.0 L758.6,385.7 L759.9,384.8Z" class="t" style="stroke-width:1.8"/>
<path d="M732.4,380.5 L733.9,379.4 L737.0,377.2 L740.3,375.0 L743.7,372.9 L747.3,370.9 L751.1,369.0 L755.0,367.1 L757.4,366.1 L766.6,370.7 L764.6,371.5 L761.1,373.1 L757.7,374.9 L754.5,376.7 L751.3,378.5 L748.4,380.4 L745.6,382.4 L744.5,383.3Z" class="s" style="stroke-width:2.8"/>
<path d="M737.3,379.5 L736.5,380.1 L739.6,377.9 L742.8,375.8 L746.2,373.8 L749.7,371.8 L753.4,369.9 L757.2,368.1 L757.2,368.2 L762.1,370.6 L762.5,370.5 L758.8,372.2 L755.3,374.0 L752.0,375.8 L748.8,377.7 L745.8,379.7 L742.9,381.7 L743.8,381.0Z" class="t" style="stroke-width:1.8"/>
<path d="M716.4,376.8 L718.2,375.4 L721.7,372.8 L725.5,370.3 L729.4,367.9 L733.5,365.6 L737.8,363.4 L742.2,361.3 L745.1,360.0 L754.3,364.5 L751.8,365.6 L747.8,367.6 L743.9,369.6 L740.1,371.7 L736.6,373.8 L733.2,376.1 L729.9,378.4 L728.4,379.6Z" class="s" style="stroke-width:2.8"/>
<path d="M721.2,375.8 L720.9,376.0 L724.3,373.5 L728.0,371.1 L731.8,368.8 L735.9,366.5 L740.1,364.3 L744.4,362.3 L744.9,362.1 L749.9,364.5 L749.6,364.6 L745.5,366.6 L741.5,368.7 L737.7,370.8 L734.0,373.0 L730.5,375.3 L727.3,377.7 L727.8,377.3Z" class="t" style="stroke-width:1.8"/>
<path d="M700.3,373.1 L702.6,371.3 L706.5,368.4 L710.7,365.6 L715.0,362.9 L719.6,360.3 L724.4,357.8 L729.4,355.4 L732.9,353.9 L742.0,358.4 L739.0,359.8 L734.4,362.0 L730.0,364.3 L725.8,366.7 L721.8,369.1 L717.9,371.7 L714.3,374.3 L712.4,375.9Z" class="s" style="stroke-width:2.8"/>
<path d="M705.1,372.1 L705.2,372.0 L709.1,369.2 L713.2,366.4 L717.5,363.8 L722.0,361.2 L726.7,358.8 L731.6,356.4 L732.6,356.0 L737.6,358.4 L736.8,358.8 L732.1,361.0 L727.6,363.4 L723.3,365.8 L719.2,368.3 L715.3,371.0 L711.6,373.7 L711.7,373.6Z" class="t" style="stroke-width:1.8"/>
<path d="M773.5,370.9 L775.4,370.2 L779.2,368.9 L783.0,367.6 L787.0,366.4 L791.1,365.3 L795.2,364.3 L799.5,363.3 L802.0,362.8 L807.0,368.1 L805.0,368.5 L801.2,369.4 L797.4,370.3 L793.8,371.2 L790.3,372.3 L786.8,373.4 L783.5,374.6 L782.0,375.1Z" class="s" style="stroke-width:2.8"/>
<path d="M778.6,371.3 L777.9,371.6 L781.5,370.3 L785.3,369.1 L789.1,367.9 L793.1,366.8 L797.1,365.9 L801.2,365.0 L801.0,365.0 L802.9,367.0 L803.3,366.9 L799.3,367.8 L795.5,368.7 L791.7,369.7 L788.0,370.8 L784.4,372.0 L780.9,373.2 L781.8,372.9Z" class="t" style="stroke-width:1.8"/>
<path d="M761.3,364.8 L763.7,363.9 L768.1,362.3 L772.5,360.8 L777.1,359.4 L781.8,358.1 L786.6,356.9 L791.5,355.8 L794.7,355.1 L799.7,360.4 L797.0,361.0 L792.5,362.0 L788.2,363.0 L783.9,364.2 L779.7,365.5 L775.7,366.8 L771.8,368.2 L769.7,369.0Z" class="s" style="stroke-width:2.8"/>
<path d="M766.4,365.2 L766.2,365.2 L770.4,363.7 L774.8,362.2 L779.2,360.9 L783.8,359.6 L788.5,358.4 L793.2,357.4 L793.7,357.3 L795.6,359.3 L795.3,359.3 L790.7,360.4 L786.2,361.5 L781.8,362.7 L777.5,364.0 L773.3,365.4 L769.2,366.9 L769.5,366.8Z" class="t" style="stroke-width:1.8"/>
<path d="M749.0,358.7 L752.0,357.5 L756.9,355.7 L762.0,354.0 L767.2,352.3 L772.5,350.8 L778.0,349.5 L783.6,348.2 L787.4,347.4 L792.4,352.7 L789.0,353.4 L783.9,354.5 L778.9,355.8 L774.0,357.2 L769.2,358.6 L764.6,360.2 L760.0,361.9 L757.4,362.9Z" class="s" style="stroke-width:2.8"/>
<path d="M754.1,359.0 L754.5,358.9 L759.3,357.1 L764.3,355.4 L769.3,353.8 L774.5,352.4 L779.8,351.0 L785.3,349.8 L786.4,349.6 L788.3,351.6 L787.3,351.8 L782.1,353.0 L776.9,354.3 L771.9,355.7 L767.0,357.2 L762.2,358.8 L757.5,360.5 L757.2,360.6Z" class="t" style="stroke-width:1.8"/>
<path d="M736.7,352.6 L740.3,351.1 L745.8,349.1 L751.5,347.1 L757.3,345.3 L763.3,343.6 L769.4,342.0 L775.6,340.6 L780.1,339.7 L785.1,345.0 L781.1,345.8 L775.3,347.1 L769.6,348.6 L764.1,350.1 L758.7,351.8 L753.5,353.6 L748.3,355.5 L745.2,356.8Z" class="s" style="stroke-width:2.8"/>
<path d="M741.8,352.9 L742.8,352.5 L748.2,350.5 L753.7,348.6 L759.4,346.8 L765.3,345.2 L771.2,343.6 L777.3,342.2 L779.1,341.8 L781.0,343.8 L779.4,344.2 L773.5,345.5 L767.7,347.0 L762.0,348.6 L756.5,350.4 L751.1,352.2 L745.8,354.1 L745.0,354.5Z" class="t" style="stroke-width:1.8"/>
<path d="M805.5,362.3 L807.8,361.9 L811.8,361.3 L815.8,360.7 L819.8,360.3 L823.9,359.8 L828.0,359.5 L832.1,359.3 L834.7,359.1 L836.2,364.7 L834.1,364.8 L830.3,365.0 L826.7,365.3 L823.0,365.6 L819.4,366.1 L815.8,366.5 L812.2,367.1 L810.3,367.4Z" class="s" style="stroke-width:2.3"/>
<path d="M798.2,354.6 L801.1,354.0 L805.7,353.3 L810.3,352.7 L815.0,352.1 L819.7,351.6 L824.5,351.2 L829.3,350.9 L832.5,350.8 L834.0,356.3 L831.2,356.4 L826.8,356.7 L822.5,357.1 L818.2,357.5 L813.9,358.0 L809.7,358.6 L805.5,359.2 L803.0,359.7Z" class="s" style="stroke-width:2.3"/>
<path d="M790.9,346.8 L794.4,346.2 L799.6,345.3 L804.9,344.6 L810.2,344.0 L815.5,343.4 L820.9,343.0 L826.4,342.6 L830.2,342.4 L831.7,348.0 L828.3,348.1 L823.3,348.4 L818.3,348.9 L813.4,349.4 L808.5,349.9 L803.6,350.6 L798.9,351.4 L795.7,351.9Z" class="s" style="stroke-width:2.3"/>
<path d="M783.6,339.1 L787.8,338.3 L793.6,337.4 L799.4,336.6 L805.4,335.8 L811.4,335.2 L817.4,334.7 L823.5,334.3 L828.0,334.1 L829.5,339.6 L825.4,339.8 L819.7,340.2 L814.1,340.6 L808.6,341.2 L803.0,341.9 L797.6,342.7 L792.2,343.5 L788.4,344.2Z" class="s" style="stroke-width:2.3"/>
<path d="M838.0,359.2 L840.5,359.2 L844.7,359.1 L848.9,359.2 L853.1,359.3 L857.3,359.4 L861.5,359.7 L865.6,360.0 L868.2,360.3 L866.4,365.3 L864.2,365.1 L860.4,364.8 L856.7,364.6 L852.9,364.4 L849.1,364.3 L845.3,364.3 L841.5,364.3 L839.3,364.4Z" class="s" style="stroke-width:2.3"/>
<path d="M835.7,350.9 L838.9,350.8 L843.8,350.7 L848.6,350.8 L853.5,350.9 L858.3,351.1 L863.1,351.4 L868.0,351.8 L871.2,352.1 L869.3,357.1 L866.5,356.9 L862.1,356.5 L857.7,356.3 L853.2,356.1 L848.8,355.9 L844.4,355.9 L839.9,356.0 L837.1,356.0Z" class="s" style="stroke-width:2.3"/>
<path d="M833.5,342.5 L837.3,342.4 L842.8,342.3 L848.3,342.4 L853.8,342.5 L859.3,342.8 L864.8,343.1 L870.3,343.5 L874.1,343.9 L872.3,349.0 L868.8,348.6 L863.8,348.2 L858.7,347.9 L853.6,347.7 L848.5,347.6 L843.4,347.5 L838.3,347.6 L834.9,347.7Z" class="s" style="stroke-width:2.3"/>
<path d="M831.2,334.1 L832.7,334.1 L835.7,334.0 L838.8,334.0 L841.9,333.9 L845.0,333.9 L848.0,334.0 L851.1,334.0 L852.6,334.1 L852.4,339.3 L851.1,339.3 L848.2,339.2 L845.3,339.2 L842.5,339.1 L839.6,339.2 L836.7,339.2 L833.9,339.3 L832.6,339.3Z" class="s" style="stroke-width:2.3"/>
<path d="M855.8,334.2 L857.3,334.3 L860.3,334.4 L863.4,334.6 L866.5,334.8 L869.6,335.0 L872.6,335.3 L875.7,335.6 L877.1,335.7 L875.3,340.8 L874.0,340.7 L871.2,340.4 L868.3,340.2 L865.4,340.0 L862.6,339.8 L859.7,339.6 L856.8,339.5 L855.6,339.4Z" class="s" style="stroke-width:2.3"/>
<path d="M871.4,360.4 L874.0,360.7 L878.1,361.3 L882.2,361.9 L886.2,362.6 L890.2,363.3 L894.2,364.1 L898.1,365.0 L900.4,365.6 L895.1,370.4 L893.2,369.9 L889.7,369.1 L886.2,368.4 L882.6,367.7 L879.0,367.1 L875.3,366.6 L871.6,366.1 L869.5,365.8Z" class="s" style="stroke-width:2.3"/>
<path d="M874.4,352.2 L877.6,352.6 L882.4,353.3 L887.1,354.0 L891.8,354.8 L896.4,355.7 L901.0,356.6 L905.5,357.7 L908.3,358.4 L903.1,363.2 L900.6,362.6 L896.5,361.6 L892.3,360.7 L888.1,359.9 L883.8,359.2 L879.5,358.6 L875.2,358.0 L872.4,357.7Z" class="s" style="stroke-width:2.3"/>
<path d="M877.4,344.1 L881.2,344.5 L886.6,345.3 L892.0,346.1 L897.3,347.0 L902.5,348.0 L907.7,349.1 L912.8,350.3 L916.3,351.2 L911.0,356.0 L907.9,355.2 L903.2,354.1 L898.4,353.1 L893.6,352.2 L888.7,351.3 L883.8,350.6 L878.8,349.9 L875.4,349.5Z" class="s" style="stroke-width:2.3"/>
<path d="M880.4,335.9 L884.8,336.4 L890.9,337.2 L896.9,338.2 L902.8,339.2 L908.7,340.4 L914.5,341.6 L920.2,342.9 L924.3,344.0 L919.0,348.8 L915.3,347.8 L910.0,346.6 L904.6,345.4 L899.1,344.4 L893.6,343.4 L888.1,342.6 L882.4,341.8 L878.4,341.3Z" class="s" style="stroke-width:2.3"/>
<path d="M903.9,366.4 L906.3,367.0 L910.5,368.3 L914.6,369.6 L918.5,371.0 L922.4,372.5 L926.2,374.0 L929.8,375.6 L931.7,376.4 L922.8,380.1 L921.4,379.4 L918.1,378.0 L914.8,376.6 L911.3,375.4 L907.7,374.1 L904.1,373.0 L900.4,371.9 L898.4,371.3Z" class="s" style="stroke-width:2.8"/>
<path d="M904.7,368.6 L904.5,368.5 L908.5,369.7 L912.5,371.0 L916.3,372.3 L920.1,373.7 L923.7,375.2 L927.2,376.8 L926.5,376.4 L923.1,377.9 L924.0,378.2 L920.6,376.8 L917.1,375.4 L913.5,374.0 L909.8,372.7 L906.0,371.5 L902.2,370.4 L902.6,370.5Z" class="t" style="stroke-width:1.8"/>
<path d="M911.8,359.2 L914.9,360.0 L919.7,361.5 L924.5,363.0 L929.1,364.7 L933.5,366.4 L937.9,368.2 L942.1,370.1 L944.5,371.2 L935.6,374.8 L933.6,373.9 L929.8,372.2 L925.9,370.6 L921.8,369.0 L917.6,367.6 L913.3,366.2 L909.0,364.9 L906.3,364.1Z" class="s" style="stroke-width:2.8"/>
<path d="M912.6,361.4 L913.1,361.5 L917.8,362.9 L922.4,364.4 L926.8,366.0 L931.2,367.7 L935.4,369.4 L939.5,371.2 L939.4,371.2 L935.9,372.6 L936.2,372.7 L932.3,371.0 L928.2,369.3 L924.0,367.7 L919.7,366.2 L915.3,364.7 L910.8,363.4 L910.5,363.3Z" class="t" style="stroke-width:1.8"/>
<path d="M919.7,352.1 L920.7,352.3 L923.4,353.1 L926.2,353.9 L928.9,354.8 L931.6,355.7 L934.2,356.6 L936.9,357.5 L937.7,357.8 L930.6,362.0 L930.0,361.8 L927.6,360.9 L925.2,360.1 L922.7,359.3 L920.2,358.6 L917.7,357.8 L915.1,357.1 L914.4,356.9Z" class="s" style="stroke-width:2.8"/>
<path d="M920.4,354.4 L918.8,353.9 L921.5,354.7 L924.2,355.5 L926.8,356.3 L929.4,357.2 L932.0,358.0 L934.6,358.9 L932.8,358.3 L930.5,359.7 L932.4,360.3 L929.9,359.5 L927.4,358.6 L924.8,357.8 L922.2,357.0 L919.6,356.2 L917.0,355.5 L918.7,355.9Z" class="t" style="stroke-width:1.8"/>
<path d="M941.4,359.0 L942.2,359.3 L944.8,360.3 L947.2,361.3 L949.7,362.3 L952.1,363.4 L954.5,364.5 L956.8,365.6 L957.4,365.9 L948.3,369.6 L947.9,369.4 L945.8,368.4 L943.6,367.4 L941.4,366.5 L939.2,365.5 L936.9,364.6 L934.6,363.7 L934.0,363.4Z" class="s" style="stroke-width:2.8"/>
<path d="M941.8,361.2 L940.1,360.5 L942.5,361.5 L945.0,362.5 L947.4,363.5 L949.7,364.5 L952.0,365.6 L954.3,366.7 L952.5,365.8 L948.5,367.4 L950.4,368.4 L948.2,367.3 L946.0,366.3 L943.7,365.3 L941.4,364.3 L939.1,363.4 L936.7,362.4 L938.5,363.1Z" class="t" style="stroke-width:1.8"/>
<path d="M927.7,344.8 L932.2,346.1 L938.3,347.9 L944.2,349.9 L950.1,352.0 L955.8,354.3 L961.3,356.6 L966.6,359.0 L970.1,360.7 L961.3,364.3 L958.2,362.8 L953.2,360.6 L948.1,358.4 L942.8,356.4 L937.4,354.4 L931.9,352.6 L926.2,350.9 L922.3,349.8Z" class="s" style="stroke-width:2.8"/>
<path d="M928.6,347.0 L930.3,347.5 L936.3,349.4 L942.2,351.3 L947.9,353.4 L953.4,355.5 L958.8,357.8 L964.0,360.2 L965.0,360.7 L961.6,362.1 L960.8,361.7 L955.7,359.4 L950.5,357.2 L945.1,355.1 L939.5,353.1 L933.8,351.2 L928.0,349.4 L926.4,348.9Z" class="t" style="stroke-width:1.8"/>
<path d="M935.5,378.0 L937.2,378.9 L940.5,380.7 L943.6,382.6 L946.6,384.5 L949.5,386.5 L952.2,388.5 L954.8,390.6 L955.7,391.4 L943.4,393.3 L942.7,392.8 L940.4,391.0 L938.0,389.2 L935.5,387.5 L932.9,385.8 L930.1,384.2 L927.2,382.6 L925.8,381.9Z" class="s" style="stroke-width:2.8"/>
<path d="M935.6,380.0 L934.9,379.7 L938.1,381.5 L941.2,383.3 L944.1,385.2 L946.9,387.1 L949.6,389.1 L952.0,391.1 L950.9,390.1 L944.1,391.2 L945.4,392.3 L943.1,390.4 L940.6,388.6 L938.0,386.8 L935.3,385.1 L932.4,383.4 L929.4,381.7 L930.3,382.2Z" class="t" style="stroke-width:1.8"/>
<path d="M948.3,372.7 L950.5,373.9 L954.3,376.1 L958.0,378.2 L961.4,380.5 L964.7,382.8 L967.9,385.2 L970.8,387.7 L972.2,388.8 L959.8,390.8 L958.7,389.9 L956.1,387.7 L953.3,385.6 L950.3,383.5 L947.2,381.5 L943.9,379.5 L940.5,377.6 L938.6,376.7Z" class="s" style="stroke-width:2.8"/>
<path d="M948.4,374.8 L948.3,374.8 L952.0,376.8 L955.5,379.0 L958.9,381.2 L962.1,383.4 L965.2,385.8 L968.1,388.2 L967.3,387.5 L960.6,388.6 L961.5,389.4 L958.7,387.1 L955.9,384.9 L952.8,382.8 L949.6,380.8 L946.3,378.7 L942.8,376.8 L943.1,377.0Z" class="t" style="stroke-width:1.8"/>
<path d="M961.1,367.5 L963.9,369.0 L968.2,371.4 L972.3,373.9 L976.2,376.5 L980.0,379.2 L983.5,381.9 L986.8,384.7 L988.6,386.3 L976.2,388.2 L974.8,386.9 L971.7,384.4 L968.5,381.9 L965.1,379.5 L961.5,377.2 L957.8,374.9 L953.8,372.7 L951.5,371.4Z" class="s" style="stroke-width:2.8"/>
<path d="M961.2,369.6 L961.6,369.8 L965.8,372.2 L969.9,374.7 L973.7,377.2 L977.4,379.8 L980.9,382.5 L984.1,385.2 L983.8,384.9 L977.0,386.0 L977.5,386.4 L974.4,383.8 L971.1,381.3 L967.6,378.9 L964.0,376.5 L960.1,374.1 L956.1,371.9 L955.9,371.8Z" class="t" style="stroke-width:1.8"/>
<path d="M973.9,362.3 L977.2,364.1 L982.0,366.8 L986.6,369.6 L991.0,372.6 L995.2,375.6 L999.2,378.7 L1002.9,381.8 L1005.0,383.7 L992.6,385.6 L990.8,384.0 L987.4,381.1 L983.7,378.3 L979.9,375.6 L975.8,372.9 L971.6,370.3 L967.2,367.8 L964.3,366.2Z" class="s" style="stroke-width:2.8"/>
<path d="M974.0,364.4 L974.9,364.9 L979.7,367.6 L984.2,370.4 L988.5,373.2 L992.6,376.2 L996.5,379.2 L1000.2,382.3 L1000.2,382.4 L993.5,383.4 L993.5,383.5 L990.0,380.6 L986.3,377.7 L982.4,374.9 L978.3,372.1 L974.0,369.5 L969.4,366.9 L968.7,366.5Z" class="t" style="stroke-width:1.8"/>
<path d="M958.7,394.0 L958.6,393.9 L959.8,395.1 L961.0,396.3 L962.1,397.5 L963.2,398.8 L964.2,400.0 L965.1,401.3 L964.9,401.0 L951.1,401.7 L951.4,402.1 L950.6,401.0 L949.7,400.0 L948.8,398.9 L947.8,397.8 L946.8,396.7 L945.7,395.7 L946.0,396.0Z" class="s" style="stroke-width:2.8"/>
<path d="M958.0,396.2 L956.1,394.2 L957.3,395.4 L958.4,396.6 L959.5,397.8 L960.6,399.0 L961.5,400.2 L962.5,401.5 L960.6,399.0 L952.0,399.4 L954.1,402.0 L953.2,400.9 L952.3,399.7 L951.3,398.6 L950.3,397.5 L949.3,396.4 L948.2,395.3 L950.2,397.4Z" class="t" style="stroke-width:1.8"/>
<path d="M967.1,404.2 L966.9,403.9 L967.7,405.2 L968.4,406.5 L969.1,407.8 L969.7,409.1 L970.3,410.4 L970.8,411.7 L970.6,411.2 L955.9,410.5 L956.2,411.1 L955.8,410.0 L955.3,408.9 L954.7,407.7 L954.1,406.6 L953.5,405.5 L952.8,404.4 L953.1,404.8Z" class="s" style="stroke-width:2.8"/>
<path d="M965.9,406.5 L964.4,404.0 L965.2,405.2 L965.9,406.5 L966.5,407.7 L967.1,409.0 L967.7,410.3 L968.2,411.6 L966.9,408.6 L957.5,408.1 L958.8,411.2 L958.4,410.1 L957.9,408.9 L957.3,407.7 L956.7,406.6 L956.1,405.4 L955.4,404.3 L956.9,406.9Z" class="t" style="stroke-width:1.8"/>
<path d="M975.2,391.4 L976.7,392.9 L979.3,395.8 L981.7,398.8 L983.8,401.7 L985.7,404.7 L987.3,407.8 L988.6,410.9 L989.1,412.1 L974.5,411.4 L974.2,410.5 L973.0,407.8 L971.5,405.1 L969.9,402.4 L968.0,399.8 L965.8,397.2 L963.5,394.6 L962.3,393.4Z" class="s" style="stroke-width:2.8"/>
<path d="M974.6,393.6 L974.2,393.2 L976.8,396.1 L979.1,398.9 L981.2,401.9 L983.0,404.8 L984.6,407.8 L985.9,410.8 L985.4,409.5 L976.2,409.1 L976.9,410.6 L975.6,407.8 L974.2,405.0 L972.5,402.3 L970.5,399.6 L968.3,396.9 L966.0,394.3 L966.5,394.9Z" class="t" style="stroke-width:1.8"/>
<path d="M991.6,388.9 L993.5,390.8 L996.4,394.1 L999.1,397.5 L1001.5,400.9 L1003.6,404.3 L1005.5,407.8 L1007.0,411.4 L1007.6,413.1 L993.1,412.4 L992.6,411.0 L991.2,407.8 L989.5,404.7 L987.6,401.6 L985.4,398.5 L983.0,395.5 L980.3,392.5 L978.7,390.9Z" class="s" style="stroke-width:2.8"/>
<path d="M991.0,391.1 L991.0,391.1 L993.9,394.4 L996.6,397.7 L998.9,401.0 L1001.0,404.4 L1002.8,407.8 L1004.3,411.3 L1004.0,410.5 L994.8,410.0 L995.2,411.0 L993.8,407.8 L992.1,404.6 L990.2,401.4 L988.0,398.3 L985.5,395.2 L982.7,392.2 L982.9,392.3Z" class="t" style="stroke-width:1.8"/>
<path d="M1008.0,386.3 L1010.3,388.7 L1013.6,392.4 L1016.6,396.2 L1019.3,400.0 L1021.6,403.9 L1023.7,407.9 L1025.4,411.9 L1026.2,414.0 L1011.6,413.3 L1010.9,411.5 L1009.4,407.8 L1007.5,404.3 L1005.3,400.7 L1002.9,397.2 L1000.1,393.7 L997.1,390.3 L995.1,388.3Z" class="s" style="stroke-width:2.8"/>
<path d="M1007.4,388.5 L1007.8,389.0 L1011.1,392.6 L1014.0,396.4 L1016.7,400.2 L1019.0,404.0 L1021.0,407.9 L1022.7,411.8 L1022.5,411.4 L1013.4,411.0 L1013.6,411.5 L1012.0,407.9 L1010.1,404.2 L1007.9,400.6 L1005.4,397.0 L1002.6,393.5 L999.5,390.0 L999.3,389.8Z" class="t" style="stroke-width:1.8"/>
<ellipse cx="852" cy="425.6" rx="92" ry="42" class="s" style="stroke-width:2.6"/>
<ellipse cx="852" cy="427" rx="88" ry="38.5" class="s" style="stroke-width:1.8"/>
<path d="M771.7,441.5 L770.9,440.7 L769.3,438.9 L767.7,437.0 L766.4,435.0 L765.2,433.0 L764.1,431.1 L763.3,429.0 L763.1,428.6 L776.8,427.8 L776.8,428.0 L777.5,429.7 L778.4,431.3 L779.4,433.0 L780.5,434.7 L781.7,436.3 L783.1,437.9 L783.5,438.3Z" class="s" style="stroke-width:2.6"/>
<path d="M772.4,439.1 L773.3,440.2 L771.6,438.4 L770.1,436.5 L768.7,434.6 L767.5,432.7 L766.5,430.8 L765.6,428.9 L766.4,430.7 L775.3,430.2 L774.4,428.1 L775.1,429.9 L776.0,431.6 L777.0,433.4 L778.1,435.1 L779.4,436.8 L780.8,438.4 L779.6,437.2Z" class="t" style="stroke-width:1.6"/>
<path d="M762.1,425.5 L762.0,425.0 L761.7,423.0 L761.5,420.9 L761.5,418.9 L761.6,416.8 L761.9,414.8 L762.4,412.8 L762.6,412.3 L776.2,414.1 L776.2,414.2 L775.7,415.9 L775.5,417.6 L775.3,419.4 L775.4,421.1 L775.5,422.8 L775.8,424.5 L775.8,424.7Z" class="s" style="stroke-width:2.6"/>
<path d="M764.1,423.0 L764.4,424.9 L764.1,422.9 L763.9,420.9 L763.9,419.0 L764.0,417.0 L764.3,415.0 L764.8,413.1 L764.4,414.9 L773.3,416.0 L773.8,414.0 L773.4,415.7 L773.1,417.5 L772.9,419.3 L773.0,421.1 L773.1,422.8 L773.4,424.6 L773.0,422.5Z" class="t" style="stroke-width:1.6"/>
<path d="M763.7,409.3 L764.0,408.9 L765.0,406.9 L766.1,405.0 L767.5,403.1 L769.0,401.3 L770.6,399.5 L772.4,397.7 L773.2,397.1 L784.8,401.0 L784.4,401.4 L782.9,402.9 L781.5,404.5 L780.3,406.0 L779.2,407.6 L778.2,409.2 L777.4,410.9 L777.3,411.1Z" class="s" style="stroke-width:2.6"/>
<path d="M767.2,407.4 L766.3,409.2 L767.3,407.3 L768.5,405.5 L769.8,403.6 L771.3,401.9 L772.9,400.1 L774.7,398.4 L773.8,399.4 L780.9,401.8 L782.1,400.7 L780.6,402.3 L779.2,403.9 L778.0,405.5 L776.9,407.1 L775.9,408.8 L775.0,410.5 L776.1,408.6Z" class="t" style="stroke-width:1.6"/>
<path d="M930.3,402.5 L931.1,403.3 L932.7,405.1 L934.3,407.0 L935.6,409.0 L936.8,411.0 L937.9,412.9 L938.7,415.0 L938.9,415.4 L925.2,416.2 L925.2,416.0 L924.5,414.3 L923.6,412.7 L922.6,411.0 L921.5,409.3 L920.3,407.7 L918.9,406.1 L918.5,405.7Z" class="s" style="stroke-width:2.6"/>
<path d="M929.6,404.9 L928.7,403.8 L930.4,405.6 L931.9,407.5 L933.3,409.4 L934.5,411.3 L935.5,413.2 L936.4,415.1 L935.6,413.3 L926.7,413.8 L927.6,415.9 L926.9,414.1 L926.0,412.4 L925.0,410.6 L923.9,408.9 L922.6,407.2 L921.2,405.6 L922.4,406.8Z" class="t" style="stroke-width:1.6"/>
<path d="M939.9,418.5 L940.0,419.0 L940.3,421.0 L940.5,423.1 L940.5,425.1 L940.4,427.2 L940.1,429.2 L939.6,431.2 L939.4,431.7 L925.8,429.9 L925.8,429.8 L926.3,428.1 L926.5,426.4 L926.7,424.6 L926.6,422.9 L926.5,421.2 L926.2,419.5 L926.2,419.3Z" class="s" style="stroke-width:2.6"/>
<path d="M937.9,421.0 L937.6,419.1 L937.9,421.1 L938.1,423.1 L938.1,425.0 L938.0,427.0 L937.7,429.0 L937.2,430.9 L937.6,429.1 L928.7,428.0 L928.2,430.0 L928.6,428.3 L928.9,426.5 L929.1,424.7 L929.0,422.9 L928.9,421.2 L928.6,419.4 L929.0,421.5Z" class="t" style="stroke-width:1.6"/>
<path d="M938.3,434.7 L938.0,435.1 L937.0,437.1 L935.9,439.0 L934.5,440.9 L933.0,442.7 L931.4,444.5 L929.6,446.3 L928.8,446.9 L917.2,443.0 L917.6,442.6 L919.1,441.1 L920.5,439.5 L921.7,438.0 L922.8,436.4 L923.8,434.8 L924.6,433.1 L924.7,432.9Z" class="s" style="stroke-width:2.6"/>
<path d="M934.8,436.6 L935.7,434.8 L934.7,436.7 L933.5,438.5 L932.2,440.4 L930.7,442.1 L929.1,443.9 L927.3,445.6 L928.2,444.6 L921.1,442.2 L919.9,443.3 L921.4,441.7 L922.8,440.1 L924.0,438.5 L925.1,436.9 L926.1,435.2 L927.0,433.5 L925.9,435.4Z" class="t" style="stroke-width:1.6"/>
<ellipse cx="820.3" cy="374" rx="6" ry="4.2" class="s" style="stroke-width:2.6"/>
<path d="M816.3,374.5 L824.3,374.5" class="t" style="stroke-width:1.6"/>
<ellipse cx="768" cy="436.5" rx="6" ry="4.2" class="s" style="stroke-width:2.6"/>
<path d="M764,437.0 L772,437.0" class="t" style="stroke-width:1.6"/>
<ellipse cx="931" cy="396" rx="6" ry="4.2" class="s" style="stroke-width:2.6"/>
<path d="M927,396.5 L935,396.5" class="t" style="stroke-width:1.6"/>
<ellipse cx="879" cy="458" rx="6" ry="4.2" class="s" style="stroke-width:2.6"/>
<path d="M875,458.5 L883,458.5" class="t" style="stroke-width:1.6"/>
<path d="M836,372 L886,374 Q890,377 886,381 L838,380 Q833,376 836,372 Z" class="k" stroke="#000" style="stroke-width:1.5"/>
<path d="M842,376.5 L880,377.5" stroke="#fff" style="stroke-width:1.1" stroke-dasharray="5 2"/>
<path d="M820,454 L861,455 Q865,458 861,463 L822,462 Q817,458 820,454 Z" class="k" stroke="#000" style="stroke-width:1.5"/>
<path d="M826,458.5 L856,459" stroke="#fff" style="stroke-width:1.1" stroke-dasharray="5 2"/>
<ellipse cx="852.5" cy="420" rx="61" ry="35" class="s" style="stroke-width:2.4"/>
<ellipse cx="850.5" cy="425.5" rx="41" ry="22" class="s" style="stroke-width:2.4"/>
<ellipse cx="850.4" cy="425.5" rx="36.8" ry="17.2" class="f" style="stroke-width:3"/>
<path d="M816,422 Q825,411 850,410.5 Q876,411 885,422" class="t" style="stroke-width:1.8"/>
<path d="M800,398 L832,390 L860,402 M872,392 L890,410 L905,398" class="t"/>
<path d="M780.5,355.0 L782.9,348.0 L808.0,341.8 L808.0,386.0 L804.0,389.0 L780.5,391.0 Z" class="f" style="stroke-width:2.8"/><path d="M780.5,355.0 L804.0,346.0 L804.0,389.0 M804.0,346.0 L808.0,341.8" class="s" style="stroke-width:2.4"/>
<path d="M897.0,356.0 L899.4,349.0 L922.5,343.8 L922.5,391.0 L918.5,394.0 L897.0,396.0 Z" class="f" style="stroke-width:2.8"/><path d="M897.0,356.0 L918.5,348.0 L918.5,394.0 M918.5,348.0 L922.5,343.8" class="s" style="stroke-width:2.4"/>
<path d="M782.0,416.0 L785.0,410.0 L809.0,409.4 L809.0,449.0 L804.0,452.0 L782.0,454.0 Z" class="f" style="stroke-width:2.8"/><path d="M782.0,416.0 L804.0,413.0 L804.0,452.0 M804.0,413.0 L809.0,409.4" class="s" style="stroke-width:2.4"/>
<path d="M894.5,418.0 L897.5,411.0 L920.5,405.8 L920.5,450.0 L915.5,453.0 L894.5,455.0 Z" class="f" style="stroke-width:2.8"/><path d="M894.5,418.0 L915.5,410.0 L915.5,453.0 M915.5,410.0 L920.5,405.8" class="s" style="stroke-width:2.4"/>
<path d="M1009.2,253.6 L1010.9,248.6 L1053.4,223.6 L1058.5,223.6 L1080.2,231 L1127,203.5 L1142,190.2 L1145.3,186 L1137,182.6 L1136.1,179.3 L1197.1,142.5 L1207.1,141.7 L1237.2,160 L1284,130 L1290.6,126.7 L1295.6,128.4 L1297.3,133.4 L1297.3,153.4 L1263.9,187.6 L1257.2,189.3 L1253.9,191 L1041.8,275.3 L1036.7,276.2 L1013.4,262 Z" class="f" />
<ellipse cx="1205.4" cy="177.3" rx="23.4" ry="12.5" class="s" style="stroke-width:2.6"/>
<ellipse cx="1204.6" cy="180.5" rx="14.2" ry="6.7" class="s" style="stroke-width:2.4"/>
<ellipse cx="1204" cy="183" rx="5.5" ry="3.2" class="k"/>
<path d="M1070,258.6 L1107,248.6 L1108.6,228.6 L1195.4,190.2 L1260.6,153.4 L1275.6,140 L1290.6,126.7 L1297.3,133.4 L1297.3,153.4 L1263.9,187.6 L1257.2,189.3 L1253.9,191 L1041.8,275.3 Z" fill="#fff"/>
<path d="M1009.2,253.6 L1010.9,248.6 L1053.4,223.6 L1058.5,223.6 L1080.2,231 L1127,203.5 L1142,190.2 L1145.3,186 L1137,182.6 L1136.1,179.3 L1197.1,142.5 L1207.1,141.7 L1237.2,160 L1284,130 L1290.6,126.7 L1295.6,128.4 L1297.3,133.4 L1297.3,153.4 L1263.9,187.6 L1257.2,189.3 L1253.9,191 L1041.8,275.3 L1036.7,276.2 L1013.4,262 Z" class="s" style="stroke-width:2.8"/>
<path d="M1068.5,250.3 L1070,258.6 L1107,248.6 L1108.6,228.6 L1195.4,190.2 L1260.6,153.4 L1275.6,140 L1290.6,126.7" class="s" />
<path d="M1071,253.5 L1105,244 L1106.5,225 L1194,186.5 L1258,150 L1273,137" class="t" />
<path d="M1010.9,252 L1038.4,268.7 L1041.8,275.3" class="t" />
<path d="M1040,263.6 L1040,273.7" class="t" />
<path d="M1030,253.6 Q1032,246 1043.4,245.3 Q1052,245 1056,247.5 L1068.5,250.3" class="s" />
<path d="M1033,256 Q1036,249 1045,249 Q1052,249 1055,252" class="t" />
<path d="M1255.6,167.6 L1255.6,190 M1264,163.4 L1264,187" class="s" />
<path d="M1264,163.4 L1284,130" class="s" />
<path d="M1259,165 L1260,189" class="t" />
<path d="M1417,361.8 L1458.3,355 L1469.8,359 L1472,404.3 L1488.2,429.6 L1436,457.5 L1430.8,448 L1410,399.7 Z" class="f" />
<path d="M1417,361.8 L1417,368 L1426,372 L1469.8,366" class="s" />
<path d="M1420,362 L1457,356.5" class="t" stroke-dasharray="2 2" style="stroke-width:2.4"/>
<path d="M1419,366 L1419,400 L1434,446" class="t" />
<path d="M1426.2,372 L1426.2,402 L1440,452" class="t" />
<path d="M1428.5,409 L1467.5,403.2 M1444.6,434.2 L1479,427.3" class="t" />
<ellipse cx="1438.8" cy="419.2" rx="5" ry="3" class="t"/>
<path d="M1470,372 L1501.4,373.4 L1550,368 L1569,378.8 L1585.5,376 L1540,405 L1515.7,407.6 L1488.2,429.6 L1472,404.3 Z" class="f" />
<path d="M1504.4,373.8 L1515.7,407.6 M1515,388 L1542,400" class="t" />
<ellipse cx="1546.7" cy="379.5" rx="5.6" ry="3" class="s"/>
<path d="M1471,381 A15,9 0 0 1 1501,381 L1501,393 A15,9 0 0 1 1471,393 Z" class="f" />
<ellipse cx="1486" cy="381" rx="15" ry="9" class="s"/>
<ellipse cx="1486" cy="381" rx="7" ry="4" class="s"/>
<path d="M1313.6,510 L1585.5,376 L1596,381.6 L1607,374.8 L1631.6,365.3 L1664,351.7 L1675.4,353.2 L1688.5,362.5 L1694.2,373.8 L1696,385 L1703.6,390.7 L1707.3,396.4 L1709.2,419 L1709.2,430.2 L1703.6,434 L1691,444 L1683,441.4 L1656.6,424.5 L1642.5,414 L1631.6,395 L1582.8,416.8 L1574.6,422.3 L1563.8,438.5 L1561,425 L1553,422.3 L1528.5,444 L1543.9,494 L1542,499.7 L1528.8,508.1 L1513.8,505.3 L1498.8,458.4 L1501,452 L1490.5,473.8 L1460.7,492.8 L1444.4,490 L1311.4,544.4 Z" class="f" />
<ellipse cx="1671.6" cy="413.3" rx="8" ry="10" class="s" transform="rotate(-25 1671.6 413.3)"/>
<ellipse cx="1672.5" cy="413.3" rx="4.5" ry="6.5" class="t" transform="rotate(-25 1672.5 413.3)"/>
<path d="M1664,379.5 L1686.6,368.2 M1679,394.5 L1701.7,387" class="t" />
<path d="M1607,378 Q1625,370 1634,374 L1650,388 Q1665,394 1675,400 L1688,410 L1690,425 L1686,436" class="t" />
<path d="M1683,441.4 L1686,436 L1700,428" class="t" />
<path d="M1596,381.6 L1600,390 L1607,378" class="t" />
<path d="M1500.7,464 L1527,458.4" class="t" />
<ellipse cx="1527" cy="492.2" rx="6" ry="3.5" class="s"/>
<path d="M1501,462 L1516,503" class="t" />
<path d="M1442,468.6 L1442,487" class="t" />
<path d="M1285,413.5 L1293,409.5 L1304.5,411.2 L1308.7,419.5 L1307.3,446.7 Q1311,462 1319.6,468.4 Q1333,474 1349.4,471 Q1366,464 1376.5,450.8 L1384.7,454.8 L1387.4,463 L1349.4,477.9 L1284.3,506.4 L1285,514.5 L1280.3,510 L1283.8,477.8 L1288.4,438.8 L1293,429.6 L1286,427.3 Z" class="f" />
<path d="M1290,440 L1287,478 L1285,503" class="t" />
<path d="M1349.4,471 L1349.4,479" class="t" />
<path d="M1387.4,463 L1390,457.5 L1395.5,465.7 M1395.5,454.8 L1420,449.4 M1403.7,465.7 L1420,463" class="s" />
<path d="M1281.5,523.7 L1290.7,516.8 L1309,511 L1313.6,510 L1314.8,518 L1311.4,544.4 L1306.7,544.4 L1283.8,530.6 Z" class="f" />
<ellipse cx="1298.7" cy="522.6" rx="8" ry="4.6" class="s" transform="rotate(-20 1298.7 522.6)"/>
<path d="M1313.6,510 L1585.5,376" class="s" />
<path d="M1314.8,518 L1589,382" class="s" />
<path d="M1311.3,512 L1311.3,544.4" class="t" />
<path d="M530,796.5 Q536,812 545,817 Q556,822 572.7,816.3" class="s" />
<path d="M527,795 Q533,808 545,813.5 Q556,817 570,813" class="t" />
<path d="M470.2,742.6 L527.2,696.6 L533,697.3 L553.5,709 L572.5,697.3 L585.7,696.6 L600.3,703.2 L607.6,702 L617.8,703.2 L622.2,712 L620.7,728 L631,732.4 L633.9,741.2 L661.7,745.5 L662.4,777.7 L660.2,780.6 L597.4,818.6 L584.2,818.6 L575.4,814.2 L562,809 L540,800 L518.5,792.3 L493.6,783.5 L473.2,774.8 L470.2,768.9 Z" class="f" />
<path d="M471,744 L516,762 L536,771" class="s" />
<path d="M473.5,748.5 L515.0,763.5" class="t" style="stroke-width:1.5"/>
<path d="M473.5,751.8 L511.8,766.3" class="t" style="stroke-width:1.5"/>
<path d="M473.5,755.1 L508.6,769.1" class="t" style="stroke-width:1.5"/>
<path d="M473.5,758.4 L505.4,771.9" class="t" style="stroke-width:1.5"/>
<path d="M473.5,761.7 L502.2,774.7" class="t" style="stroke-width:1.5"/>
<path d="M473.5,765.0 L499.0,777.5" class="t" style="stroke-width:1.5"/>
<path d="M473.5,768.3 L495.8,780.3" class="t" style="stroke-width:1.5"/>
<path d="M473.5,771.6 L492.6,783.1" class="t" style="stroke-width:1.5"/>
<path d="M536,771 L591,792 L661.7,747.5" class="s" />
<path d="M591,792 L591,818" class="s" />
<path d="M553.0,781.0 L590.0,793.0" class="t" style="stroke-width:1.5"/>
<path d="M592.0,792.0 L612.0,780.0" class="t" style="stroke-width:1.5"/>
<path d="M555.5,784.3 L590.0,795.1" class="t" style="stroke-width:1.5"/>
<path d="M592.0,794.1 L611.2,782.1" class="t" style="stroke-width:1.5"/>
<path d="M558.0,787.6 L590.0,797.2" class="t" style="stroke-width:1.5"/>
<path d="M592.0,796.2 L610.4,784.2" class="t" style="stroke-width:1.5"/>
<path d="M560.5,790.9 L590.0,799.3" class="t" style="stroke-width:1.5"/>
<path d="M592.0,798.3 L609.6,786.3" class="t" style="stroke-width:1.5"/>
<path d="M563.0,794.2 L590.0,801.4" class="t" style="stroke-width:1.5"/>
<path d="M592.0,800.4 L608.8,788.4" class="t" style="stroke-width:1.5"/>
<path d="M565.5,797.5 L590.0,803.5" class="t" style="stroke-width:1.5"/>
<path d="M592.0,802.5 L608.0,790.5" class="t" style="stroke-width:1.5"/>
<path d="M568.0,800.8 L590.0,805.6" class="t" style="stroke-width:1.5"/>
<path d="M592.0,804.6 L607.2,792.6" class="t" style="stroke-width:1.5"/>
<path d="M570.5,804.1 L590.0,807.7" class="t" style="stroke-width:1.5"/>
<path d="M592.0,806.7 L606.4,794.7" class="t" style="stroke-width:1.5"/>
<path d="M645.0,766.0 L660.0,757.0" class="t" style="stroke-width:1.4"/>
<path d="M645.0,769.2 L660.0,760.2" class="t" style="stroke-width:1.4"/>
<path d="M645.0,772.4 L660.0,763.4" class="t" style="stroke-width:1.4"/>
<path d="M645.0,775.6 L660.0,766.6" class="t" style="stroke-width:1.4"/>
<path d="M645.0,778.8 L660.0,769.8" class="t" style="stroke-width:1.4"/>
<ellipse cx="517" cy="720" rx="15" ry="5.5" class="s" style="stroke-width:2.8" transform="rotate(-33 517 720)"/>
<ellipse cx="617.8" cy="763" rx="15" ry="5.5" class="s" style="stroke-width:2.8" transform="rotate(-28 617.8 763)"/>
<path d="M603.6,705 L615.3,701.7 L622,710 L620.3,728.4 L632,733.4 L633.7,741 L591,768 L581,775 L577,774.8 L570,757 L545,750 Z" class="f" />
<path d="M579.8,754.3 L615,733.8 M581.3,759.5 L631,737" class="t" />
<path d="M569.6,755.8 Q575,765 577,774.8" class="s" />
<path d="M511.8,741.8 L573.6,696.7 Q590,691.5 603.6,705 L533.5,758.5 Z" class="f" />
<path d="M602,706 Q611,703 616,708" class="t" />
<ellipse cx="531" cy="743.5" rx="21" ry="12.5" class="f" style="stroke-width:2.6" transform="rotate(-18 531 743.5)"/>
<ellipse cx="533" cy="744" rx="15" ry="8" class="t" style="stroke-width:1.6" transform="rotate(-18 533 744)"/>
<path d="M540,747 Q544,745 549,745" class="t" />
<path d="M517.5,786 L526,783 L531,793 L522,796.5 Z" class="f" style="stroke-width:2.6"/>
<path d="M531,793 Q537,810 548,816" class="s" style="stroke-width:2.2"/>
<ellipse cx="572.5" cy="739.7" rx="7" ry="7.5" class="f" style="stroke-width:2.6"/>
<ellipse cx="571.5" cy="740.5" rx="3.2" ry="3.8" class="s"/>
<path d="M280.0,765.0 C283.3,767.2 292.5,773.5 300.0,778.0 C307.5,782.5 313.9,787.4 325.0,791.7 C336.1,796.0 352.9,801.2 366.7,804.0 C380.5,806.8 394.1,808.6 408.0,808.3 C421.9,808.0 436.1,805.8 450.0,802.0 C463.9,798.2 477.9,792.0 491.7,785.4 C505.5,778.8 520.6,770.1 533.0,762.5 C545.4,754.9 560.5,743.8 566.0,740.0 L572,746 L572.0,746.0 C565.5,750.5 546.4,764.3 533.0,773.0 C519.6,781.7 505.5,790.7 491.7,798.0 C477.9,805.3 463.9,812.5 450.0,816.7 C436.1,820.9 421.9,823.0 408.0,823.0 C394.1,823.0 380.5,819.9 366.7,816.7 C352.9,813.5 336.1,808.0 325.0,804.0 C313.9,800.0 308.2,797.0 300.0,793.0 C291.8,789.0 280.0,782.2 276.0,780.0 Z" fill="#fff" stroke="none"/>
<path d="M280.0,765.0 C283.3,767.2 292.5,773.5 300.0,778.0 C307.5,782.5 313.9,787.4 325.0,791.7 C336.1,796.0 352.9,801.2 366.7,804.0 C380.5,806.8 394.1,808.6 408.0,808.3 C421.9,808.0 436.1,805.8 450.0,802.0 C463.9,798.2 477.9,792.0 491.7,785.4 C505.5,778.8 520.6,770.1 533.0,762.5 C545.4,754.9 560.5,743.8 566.0,740.0" class="s" style="stroke-width:2.9"/>
<path d="M276.0,780.0 C280.0,782.2 291.8,789.0 300.0,793.0 C308.2,797.0 313.9,800.0 325.0,804.0 C336.1,808.0 352.9,813.5 366.7,816.7 C380.5,819.9 394.1,823.0 408.0,823.0 C421.9,823.0 436.1,820.9 450.0,816.7 C463.9,812.5 477.9,805.3 491.7,798.0 C505.5,790.7 519.6,781.7 533.0,773.0 C546.4,764.3 565.5,750.5 572.0,746.0" class="s" style="stroke-width:2.9"/>
<path d="M243,735.5 L285,737 L292,760 L270,775 Z" class="f" />
<ellipse cx="295" cy="754" rx="10" ry="17.5" class="f" transform="rotate(10 295 754)"/>
<path d="M290,738 Q299,750 293,770 M286.5,739 Q294,752 288,770" class="t" />
<path d="M237.6,730.9 L283,763.5 L268.5,779.3 L227.5,759.2 Q218.5,754 219.2,743.4 Q221.5,729.5 237.6,730.9 Z" class="f" />
<path d="M237.6,731.5 Q228,734 226.5,744 Q226,752 230,757.5" class="s" />
<ellipse cx="275" cy="771" rx="7.5" ry="10.5" class="f" transform="rotate(30 275 771)"/>
<ellipse cx="276.5" cy="772" rx="4" ry="7.5" class="t" transform="rotate(30 276.5 772)"/>
<path d="M1105,756 C1120,761 1130,765 1140,770 C1160,780 1176,786 1196,786 C1228,785 1255,773 1302,745 C1342,720 1382,685 1422,643 C1452,611 1485,588 1526,565.5" fill="none" stroke="#000" style="stroke-width:11.2" stroke-linecap="butt"/>
<path d="M1105,756 C1120,761 1130,765 1140,770 C1160,780 1176,786 1196,786 C1228,785 1255,773 1302,745 C1342,720 1382,685 1422,643 C1452,611 1485,588 1526,565.5" fill="none" stroke="#fff" style="stroke-width:6.0" stroke-linecap="butt"/>
<path d="M1526,565.5 C1540,557 1550,555 1561,557 C1570,560 1576,566 1578,574" fill="none" stroke="#000" style="stroke-width:8.8" stroke-linecap="butt"/>
<path d="M1526,565.5 C1540,557 1550,555 1561,557 C1570,560 1576,566 1578,574" fill="none" stroke="#fff" style="stroke-width:3.8" stroke-linecap="butt"/>
<path d="M1139,764 L1141,776 M1524,559 L1528,571.5" class="s" />
<path d="M1063.5,727 L1083,717 L1092,720 L1102.6,728 Q1097,736 1102,741 L1106,752 L1104,760 L1100,762 L1086,756 L1067,740 L1063.5,734 Z" class="f" />
<path d="M1066,733 L1088,748 L1100,754" class="t" />
<path d="M1566.7,585 L1578,577.6 L1590.5,570 L1598,569.4 L1610.5,580 L1613,587.6 L1588,604 L1581.7,605.2 L1568,592.6 Z" class="f" />
<ellipse cx="1576.7" cy="593.9" rx="5.5" ry="4" class="s" transform="rotate(30 1576.7 593.9)"/>
<ellipse cx="1576.7" cy="594.2" rx="3" ry="2" class="k" transform="rotate(30 1576.7 594.2)"/>
<path d="M1589,592 L1610,582" class="t" />
<path d="M1398,579 L1409,575 L1412.4,571.2 L1420.4,571.2 L1425,575.5 L1429,585.8 L1437.6,592.7 L1436.5,595 L1431.3,597.9 L1430.2,603.6 L1419.9,608.2 L1414.7,607 L1407.2,597.3 L1406.6,589.9 L1398.6,584.7 Z" class="k" stroke="#000" style="stroke-width:1.2" stroke-linejoin="round"/>
<path d="M1401.5,581.5 L1408.5,586.5 L1410.5,590" stroke="#fff" style="stroke-width:1.3" fill="none"/>
<path d="M1420.5,589.5 L1433,592.5 L1429,595.5 L1424,593.5 Z" fill="#fff"/>
<path d="M1412,594 L1416,600 L1416.5,603" stroke="#fff" style="stroke-width:1.6" fill="none"/>
<path d="M1415,591 L1425,596" stroke="#fff" style="stroke-width:1" fill="none"/>
<path d="M1414.5,577 L1414.5,579.5 M1421,577 L1424,582" stroke="#fff" style="stroke-width:0.9" fill="none"/>
<ellipse cx="850" cy="170" rx="38.8" ry="17.6" class="f" style="stroke-width:3"/>
<path d="M813.5,174 Q850,192 886.5,174" class="s" style="stroke-width:2"/>
<path d="M821.8,144 Q823,127 851,123.5 Q879,127 880,144 L880,156 L863.5,172 L836.4,172 L821.8,156 Z" class="f" style="stroke-width:3"/>
<path d="M821.8,144 Q830,152 836.4,153 L863.5,153 Q872,152 880,144" class="s" style="stroke-width:2.2"/>
<path d="M836.4,153 L836.4,172 M863.5,153 L863.5,172" class="s" style="stroke-width:2.4"/>
<ellipse cx="850.5" cy="137.6" rx="16.5" ry="8.5" class="s" style="stroke-width:2.8"/>
<ellipse cx="850.5" cy="139" rx="11" ry="5.2" class="t" style="stroke-width:1.8"/>
<path d="M841,141.5 Q850.5,145 860,141.5 M843,138.5 L858,138.5" class="t" style="stroke-width:1.5"/>
<path d="M858,252 Q864,251 866,256 L865.6,297 Q858,296 851,292 Q846,283 847,272 Q849,258 858,252 Z" class="f" />
<path d="M858,256 Q853,268 856,285 Q859,292 865,296" class="t" />
<path d="M1337,271 Q1322,272 1314,278 Q1311,282 1316,284 Q1325,287 1337,288" class="s" />
<path d="M1334,275 Q1324,277 1319,280 Q1322,283 1334,284" class="t" />
<ellipse cx="1340.0" cy="278.5" rx="4.2" ry="14.5" class="s" style="stroke-width:2.3"/>
<ellipse cx="1344.9" cy="278.2" rx="4.2" ry="14.5" class="s" style="stroke-width:2.3"/>
<ellipse cx="1349.8" cy="278.0" rx="4.2" ry="14.5" class="s" style="stroke-width:2.3"/>
<ellipse cx="1354.7" cy="277.8" rx="4.2" ry="14.5" class="s" style="stroke-width:2.3"/>
<ellipse cx="1359.6" cy="277.5" rx="4.2" ry="14.5" class="s" style="stroke-width:2.3"/>
<ellipse cx="1364.5" cy="277.2" rx="4.2" ry="14.5" class="s" style="stroke-width:2.3"/>
<ellipse cx="1369.4" cy="277.0" rx="4.2" ry="14.5" class="s" style="stroke-width:2.3"/>
<ellipse cx="1374.3" cy="276.8" rx="4.2" ry="14.5" class="s" style="stroke-width:2.3"/>
<ellipse cx="1379.2" cy="276.5" rx="4.2" ry="14.5" class="s" style="stroke-width:2.3"/>
<ellipse cx="1384.1" cy="276.2" rx="4.2" ry="14.5" class="s" style="stroke-width:2.3"/>
<ellipse cx="1337" cy="280" rx="6" ry="11.5" class="f" style="stroke-width:2.4"/>
<path d="M1337,270 L1337,290" class="s" style="stroke-width:2"/>
<path d="M1340,264.5 L1383,263.5 M1340,293.5 L1381,292.5" class="s" style="stroke-width:2.4"/>
<path d="M1383,266 Q1395,264 1401,268 Q1406,274 1401,282 L1390,289" class="s" style="stroke-width:2.6"/>
<path d="M1543.8,219 L1543.8,240 Q1549,244.5 1554,240 L1554,219" class="f" />
<path d="M1545,230 L1552.5,230 M1545,235 L1552.5,235" class="s" style="stroke-width:2.2"/>
<ellipse cx="1549" cy="214.5" rx="14.5" ry="6.5" class="f"/>
<path d="M1537,216 Q1549,224 1561,216" class="s" style="stroke-width:2"/>
<path d="M1539.5,211 Q1538.5,197 1549,195.8 Q1559.5,197 1558.5,211 Q1549,215 1539.5,211 Z" class="f" />
<path d="M1543,203 Q1547,199 1552,201 M1543,205 Q1549,209 1555,205" class="s" style="stroke-width:2.2"/>
<path d="M1531.6,258 Q1531.6,272.7 1547,272.7 Q1562.6,272.7 1562.6,258 Q1562.6,250 1547,250 Q1531.6,250 1531.6,258 Z" class="f" />
<path d="M1532.5,261 Q1547,270 1561.5,261" class="s" style="stroke-width:2.2"/>
<ellipse cx="1548.5" cy="257.8" rx="8.5" ry="3.9" class="s"/>
<ellipse cx="1548.5" cy="258.3" rx="4.5" ry="1.6" class="t"/>
<path d="M1533,291 Q1532,285 1540,284.5 L1557,282.4 L1561,300 L1556,306 L1545,303 L1534,297 Z" class="f" />
<ellipse cx="1547.6" cy="290.2" rx="5" ry="3.2" class="s"/>
<path d="M1617,258 L1629,254 Q1634,255 1633.5,260 L1622,266 Z" class="f" />
<path d="M1557,282.4 L1602.4,255.8 L1622.8,274.6 L1575.8,299.6 Z" class="f" />
<path d="M1557,282.4 L1575.8,299.6 L1578,326.3 L1557,312 Z" class="f" />
<path d="M1575.8,299.6 L1622.8,274.6 L1627.5,298 L1579,326.3 Z" class="f" />
<path d="M1622.8,274.6 L1622.8,262 L1627.5,265 L1627.5,298" class="s" />
<path d="M1596,262 L1600,264 L1599,266 L1595,264 Z M1610,272 L1614,274 L1613,276 L1609,274 Z" class="k" />
<path d="M1543,323 Q1541,318 1546,316 L1565,306 L1568,313 L1548,324 Q1545,325 1543,323 Z" class="f" />
<ellipse cx="1567.5" cy="309.5" rx="4.8" ry="7.5" class="f" transform="rotate(-20 1567.5 309.5)"/>
<path d="M1571,326 L1571,332 Q1579,337 1588,332 L1588,324 Z" class="f" />
<text class="lb" font-size="30.3" transform="translate(1273.7,65.5) scale(1.0,1)">9</text>
<text class="lb" font-size="30.3" transform="translate(1086.4,121.3) scale(1.0,1)">9</text>
<text class="lb" font-size="30.3" transform="translate(1346.4,155.3) scale(1.0,1)">2</text>
<path d="M912.3,150.2 L915.3,150.2 L915.3,171.0 L912.3,171.0 L912.3,155.4 L908.3,156.5 L908.0,153.6 Z" class="k"/>
<text class="lb" font-size="30.3" transform="translate(921.3,170.3) scale(1.0,1)">3</text>
<path d="M810.3,265.2 L813.3,265.2 L813.3,286.0 L810.3,286.0 L810.3,270.4 L806.3,271.5 L806.0,268.6 Z" class="k"/>
<text class="lb" font-size="30.3" transform="translate(1621.4,123.8) scale(1.0,1)">7</text>
<path d="M1472.8,175.7 L1475.8,175.7 L1475.8,196.5 L1472.8,196.5 L1472.8,180.9 L1468.8,182.0 L1468.5,179.1 Z" class="k"/>
<path d="M1490.3,175.7 L1493.3,175.7 L1493.3,196.5 L1490.3,196.5 L1490.3,180.9 L1486.3,182.0 L1486.0,179.1 Z" class="k"/>
<path d="M1602.8,199.2 L1605.8,199.2 L1605.8,220.0 L1602.8,220.0 L1602.8,204.4 L1598.8,205.5 L1598.5,202.6 Z" class="k"/>
<text class="lb" font-size="30.3" transform="translate(1611.8,219.3) scale(1.0,1)">5</text>
<path d="M1569.9,235.2 L1572.9,235.2 L1572.9,256.0 L1569.9,256.0 L1569.9,240.4 L1565.9,241.5 L1565.6,238.6 Z" class="k"/>
<text class="lb" font-size="30.3" transform="translate(1578.9,255.3) scale(1.0,1)">6</text>
<text class="lb" font-size="30.3" transform="translate(1685.4,295.9) scale(1.0,1)">6</text>
<text class="lb" font-size="30.3" transform="translate(1359.9,358.3) scale(1.0,1)">8</text>
<path d="M1218.1,327.7 L1221.1,327.7 L1221.1,348.5 L1218.1,348.5 L1218.1,332.9 L1214.1,334.0 L1213.8,331.1 Z" class="k"/>
<text class="lb" font-size="30.3" transform="translate(1227.1,347.8) scale(1.0,1)">0</text>
<text class="lb" font-size="30.3" transform="translate(1154.1,501.8) scale(1.0,1)">4</text>
<path d="M514.6,613.8 L517.6,613.8 L517.6,634.6 L514.6,634.6 L514.6,619.0 L510.6,620.1 L510.3,617.2 Z" class="k"/>
<text class="lb" font-size="30.3" transform="translate(523.6,633.9) scale(1.0,1)">2</text>
<text class="lb" font-size="30.3" transform="translate(741.4,766.8) scale(1.0,1)">3</text>
<path d="M1334.0,583.2 L1337.0,583.2 L1337.0,604.0 L1334.0,604.0 L1334.0,588.4 L1330.0,589.5 L1329.7,586.6 Z" class="k"/>
<text class="lb" font-size="30.3" transform="translate(1343.0,603.3) scale(1.0,1)">4</text>
<text class="lb" font-size="30.3" transform="translate(1382.4,764.8) scale(1.0,1)">5</text>
<line x1="1222" y1="56" x2="1268" y2="56" stroke="#000" style="stroke-width:1.9"/>
<line x1="1054" y1="110" x2="1078" y2="110" stroke="#000" style="stroke-width:1.9"/>
<line x1="1297" y1="147" x2="1339" y2="147" stroke="#000" style="stroke-width:1.9"/>
<line x1="888" y1="163.7" x2="903" y2="163.7" stroke="#000" style="stroke-width:1.9"/>
<line x1="825" y1="276" x2="847" y2="276" stroke="#000" style="stroke-width:1.9"/>
<line x1="1481" y1="204" x2="1481" y2="250" stroke="#000" style="stroke-width:1.9"/>
<line x1="1564" y1="213" x2="1592" y2="213" stroke="#000" style="stroke-width:1.9"/>
<line x1="1628" y1="287" x2="1678" y2="287" stroke="#000" style="stroke-width:1.9"/>
<line x1="1368" y1="293" x2="1368" y2="328" stroke="#000" style="stroke-width:1.9"/>
<line x1="1245" y1="339" x2="1287" y2="339" stroke="#000" style="stroke-width:1.9"/>
<line x1="1071" y1="493" x2="1147" y2="493" stroke="#000" style="stroke-width:1.9"/>
<line x1="546" y1="626.6" x2="601" y2="626.6" stroke="#000" style="stroke-width:1.9"/>
<line x1="662" y1="758" x2="732" y2="758" stroke="#000" style="stroke-width:1.9"/>
<line x1="1366" y1="595.7" x2="1408" y2="595.7" stroke="#000" style="stroke-width:1.9"/>
<line x1="1393" y1="678" x2="1393" y2="737" stroke="#000" style="stroke-width:1.9"/>
<path d="M1201.3,60.8 V85.8 Q1207.8,90.3 1214.3,85.8 V60.8" class="f" style="stroke-width:3.2"/>
<path d="M1202.8,75.8 H1212.8" class="s" style="stroke-width:2.6"/>
<ellipse cx="1207.8" cy="54.8" rx="15.5" ry="8.0" class="f" style="stroke-width:3.2"/>
<path d="M1195.3,55.3 Q1207.8,64.0 1220.3,55.3" class="s" style="stroke-width:2"/>
<path d="M1197.0,42.2 L1197.0,53.8 Q1207.8,57.8 1218.5,53.8 L1218.5,42.2 Q1218.5,37.3 1207.8,37.3 Q1197.0,37.3 1197.0,42.2Z" class="f" style="stroke-width:3.2"/>
<ellipse cx="1207.8" cy="42.2" rx="7.8" ry="2.6" class="s" style="stroke-width:2.4"/>
<path d="M1203.1,46.4 V55.8 M1212.5,46.4 V55.8" class="s" style="stroke-width:2.6"/>
<path d="M1034.2,124.0 V147.0 Q1040.5,151.5 1046.8,147.0 V124.0" class="f" style="stroke-width:3.2"/>
<path d="M1035.8,138.0 H1045.2" class="s" style="stroke-width:2.6"/>
<ellipse cx="1040.5" cy="119.0" rx="14.5" ry="7.0" class="f" style="stroke-width:3.2"/>
<path d="M1029.0,119.5 Q1040.5,127.0 1052.0,119.5" class="s" style="stroke-width:2"/>
<path d="M1030.5,107.5 L1030.5,118.0 Q1040.5,122.0 1050.5,118.0 L1050.5,107.5 Q1050.5,103.0 1040.5,103.0 Q1030.5,103.0 1030.5,107.5Z" class="f" style="stroke-width:3.2"/>
<ellipse cx="1040.5" cy="107.5" rx="7.0" ry="2.4" class="s" style="stroke-width:2.4"/>
<path d="M1036.1,111.2 V120.0 M1044.9,111.2 V120.0" class="s" style="stroke-width:2.6"/>
<path d="M1474.5,270.0 V318.0 Q1481.5,322.5 1488.5,318.0 V270.0" class="f" style="stroke-width:3.2"/>
<path d="M1476.0,281.1 H1487.0" class="s" style="stroke-width:2.6"/>
<path d="M1476.0,291.4 H1487.0" class="s" style="stroke-width:2.6"/>
<path d="M1476.0,301.6 H1487.0" class="s" style="stroke-width:2.6"/>
<path d="M1476.0,311.9 H1487.0" class="s" style="stroke-width:2.6"/>
<ellipse cx="1481.5" cy="266.5" rx="16.0" ry="5.5" class="f" style="stroke-width:3.2"/>
<path d="M1468.5,267.0 Q1481.5,272.8 1494.5,267.0" class="s" style="stroke-width:2"/>
<path d="M1470.5,254.3 L1470.5,265.5 Q1481.5,269.5 1492.5,265.5 L1492.5,254.3 Q1492.5,249.5 1481.5,249.5 Q1470.5,249.5 1470.5,254.3Z" class="f" style="stroke-width:3.2"/>
<ellipse cx="1481.5" cy="254.3" rx="8.0" ry="2.6" class="s" style="stroke-width:2.4"/>
<path d="M1476.7,258.3 V267.5 M1486.3,258.3 V267.5" class="s" style="stroke-width:2.6"/>
<path d="M1295.3,343.0 V368.0 Q1301.4,372.5 1307.5,368.0 V343.0" class="f" style="stroke-width:3.2"/>
<path d="M1296.8,351.2 H1306.0" class="s" style="stroke-width:2.6"/>
<path d="M1296.8,355.8 H1306.0" class="s" style="stroke-width:2.6"/>
<path d="M1296.8,360.2 H1306.0" class="s" style="stroke-width:2.6"/>
<path d="M1296.8,364.8 H1306.0" class="s" style="stroke-width:2.6"/>
<ellipse cx="1301.4" cy="337.0" rx="14.2" ry="8.0" class="f" style="stroke-width:3.2"/>
<path d="M1290.2,337.5 Q1301.4,346.2 1312.7,337.5" class="s" style="stroke-width:2"/>
<path d="M1290.8,325.5 L1290.8,336.0 Q1301.4,340.0 1312.0,336.0 L1312.0,325.5 Q1312.0,321.0 1301.4,321.0 Q1290.8,321.0 1290.8,325.5Z" class="f" style="stroke-width:3.2"/>
<ellipse cx="1301.4" cy="325.5" rx="7.6" ry="2.4" class="s" style="stroke-width:2.4"/>
<path d="M1296.7,329.2 V338.0 M1306.1,329.2 V338.0" class="s" style="stroke-width:2.6"/>
<path d="M609.0,630.5 V673.5 Q615,678.0 621.0,673.5 V630.5" class="f" style="stroke-width:3.2"/>
<path d="M610.5,640.1 H619.5" class="s" style="stroke-width:2.6"/>
<path d="M610.5,647.3 H619.5" class="s" style="stroke-width:2.6"/>
<path d="M610.5,654.5 H619.5" class="s" style="stroke-width:2.6"/>
<path d="M610.5,661.7 H619.5" class="s" style="stroke-width:2.6"/>
<path d="M610.5,668.9 H619.5" class="s" style="stroke-width:2.6"/>
<ellipse cx="615" cy="625.5" rx="15.0" ry="7.0" class="f" style="stroke-width:3.2"/>
<path d="M603.0,626.0 Q615,633.5 627.0,626.0" class="s" style="stroke-width:2"/>
<path d="M605.0,614.7 L605.0,624.5 Q615,628.5 625.0,624.5 L625.0,614.7 Q625.0,610.5 615,610.5 Q605.0,610.5 605.0,614.7Z" class="f" style="stroke-width:3.2"/>
<ellipse cx="615" cy="614.7" rx="7.0" ry="2.2" class="s" style="stroke-width:2.4"/>
<path d="M610.6,618.2 V626.5 M619.4,618.2 V626.5" class="s" style="stroke-width:2.6"/>
<text x="1680.7" y="899.4" class="sr" font-size="26" letter-spacing="2.2" stroke="#000" style="stroke-width:0.35">VE1N</text>
<text x="1781.6" y="899.4" class="sr" font-size="26" letter-spacing="3.1" stroke="#000" style="stroke-width:0.35">E1900</text>
<g transform="translate(60.4,914.5) rotate(-31.1)"><path d="M0,0 L20.8,-20.8 L22.5,-13.3 L63.6,-13.3 L63.6,13.4 L22.5,13.4 L21,22 Z" class="k" stroke="#000" style="stroke-width:1" stroke-linejoin="round"/><text x="64.6" y="10.6" font-family="Liberation Sans" font-weight="bold" font-size="30" letter-spacing="2.6" fill="#000" stroke="#000" style="stroke-width:1.3">FR</text><circle cx="117.3" cy="8.7" r="4.3" class="k"/></g>
</svg>
</body></html>
